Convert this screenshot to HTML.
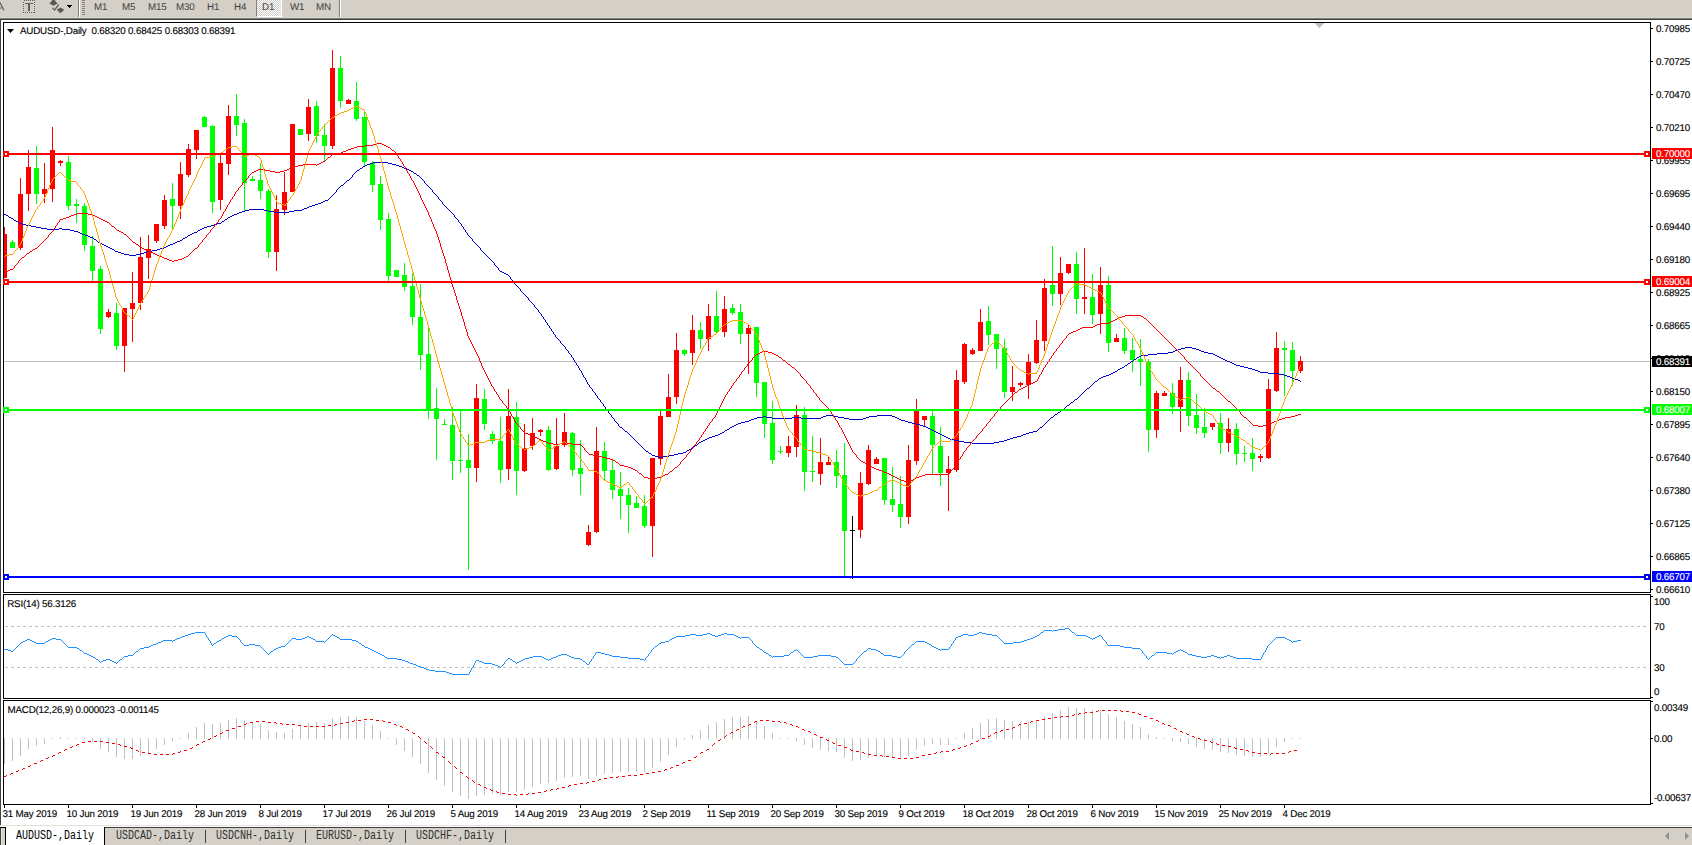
<!DOCTYPE html><html><head><meta charset="utf-8"><title>AUDUSD-,Daily</title>
<style>
html,body{margin:0;padding:0;background:#fff;width:1692px;height:845px;overflow:hidden}
body{position:relative;font-family:"Liberation Sans",sans-serif;font-size:9.5px;color:#000}
.t{position:absolute;white-space:pre;line-height:12px;height:12px;font-size:9.8px;letter-spacing:-0.2px;text-rendering:geometricPrecision;-webkit-text-stroke:0.12px}
.tb{position:absolute;white-space:pre;line-height:12px;font-size:9.8px;letter-spacing:-0.2px;color:#404040;text-rendering:geometricPrecision}
.tab{position:absolute;white-space:pre;font-family:"Liberation Mono",monospace;font-size:12px;line-height:14px;top:829px;transform:scaleX(0.8333);transform-origin:0 0}
svg{position:absolute;left:0;top:0}
</style></head><body>
<div style="position:absolute;left:0;top:0;width:1692px;height:18px;background:#d4d0c8"></div>
<div style="position:absolute;left:0;top:17px;width:1692px;height:1px;background:#dbd7cf"></div>
<div style="position:absolute;left:0;top:18px;width:1692px;height:1px;background:#808080"></div>
<div style="position:absolute;left:0;top:19px;width:1692px;height:1px;background:#404040"></div>
<div style="position:absolute;left:0;top:20px;width:1px;height:805px;background:#404040"></div>
<div style="position:absolute;left:0;top:825px;width:1692px;height:1px;background:#e4e1da"></div>
<div style="position:absolute;left:0;top:827px;width:1692px;height:18px;background:#d4d0c8"></div>
<div style="position:absolute;left:0;top:827px;width:1692px;height:1px;background:#404040"></div>
<div style="position:absolute;left:0;top:827px;width:6px;height:1px;background:#000"></div>
<div style="position:absolute;left:0;top:828px;width:1px;height:17px;background:#404040"></div>
<div style="position:absolute;left:1px;top:828px;width:1px;height:17px;background:#e8e5e0"></div>
<div style="position:absolute;left:5px;top:827px;width:1px;height:18px;background:#000"></div>
<div style="position:absolute;left:6px;top:826px;width:98px;height:19px;background:#fff"></div>
<div style="position:absolute;left:104px;top:827px;width:1px;height:18px;background:#000"></div>
<svg width="1692" height="845" viewBox="0 0 1692 845" shape-rendering="crispEdges">
<rect x="3" y="22" width="1648" height="1" fill="#000"/>
<rect x="3" y="592" width="1648" height="1" fill="#000"/>
<rect x="3" y="22" width="1" height="571" fill="#000"/>
<rect x="1650" y="22" width="1" height="571" fill="#000"/>
<rect x="3" y="594" width="1648" height="1" fill="#000"/>
<rect x="3" y="698" width="1648" height="1" fill="#000"/>
<rect x="3" y="594" width="1" height="105" fill="#000"/>
<rect x="1650" y="594" width="1" height="105" fill="#000"/>
<rect x="3" y="700" width="1648" height="1" fill="#000"/>
<rect x="3" y="804" width="1648" height="1" fill="#000"/>
<rect x="3" y="700" width="1" height="105" fill="#000"/>
<rect x="1650" y="700" width="1" height="105" fill="#000"/>
<rect x="1651" y="28" width="2" height="1" fill="#000"/>
<rect x="1651" y="61" width="2" height="1" fill="#000"/>
<rect x="1651" y="94" width="2" height="1" fill="#000"/>
<rect x="1651" y="127" width="2" height="1" fill="#000"/>
<rect x="1651" y="160" width="2" height="1" fill="#000"/>
<rect x="1651" y="193" width="2" height="1" fill="#000"/>
<rect x="1651" y="226" width="2" height="1" fill="#000"/>
<rect x="1651" y="259" width="2" height="1" fill="#000"/>
<rect x="1651" y="292" width="2" height="1" fill="#000"/>
<rect x="1651" y="325" width="2" height="1" fill="#000"/>
<rect x="1651" y="391" width="2" height="1" fill="#000"/>
<rect x="1651" y="424" width="2" height="1" fill="#000"/>
<rect x="1651" y="457" width="2" height="1" fill="#000"/>
<rect x="1651" y="490" width="2" height="1" fill="#000"/>
<rect x="1651" y="523" width="2" height="1" fill="#000"/>
<rect x="1651" y="556" width="2" height="1" fill="#000"/>
<rect x="1651" y="589" width="2" height="1" fill="#000"/>
<rect x="1651" y="358" width="2" height="1" fill="#000"/>
<rect x="1651" y="596" width="2" height="1" fill="#000"/>
<rect x="1651" y="697" width="2" height="1" fill="#000"/>
<rect x="1651" y="701" width="2" height="1" fill="#000"/>
<rect x="1651" y="738" width="2" height="1" fill="#000"/>
<rect x="1651" y="803" width="2" height="1" fill="#000"/>
<rect x="4" y="805" width="1" height="3" fill="#000"/>
<rect x="68" y="805" width="1" height="3" fill="#000"/>
<rect x="132" y="805" width="1" height="3" fill="#000"/>
<rect x="196" y="805" width="1" height="3" fill="#000"/>
<rect x="260" y="805" width="1" height="3" fill="#000"/>
<rect x="324" y="805" width="1" height="3" fill="#000"/>
<rect x="388" y="805" width="1" height="3" fill="#000"/>
<rect x="452" y="805" width="1" height="3" fill="#000"/>
<rect x="516" y="805" width="1" height="3" fill="#000"/>
<rect x="580" y="805" width="1" height="3" fill="#000"/>
<rect x="644" y="805" width="1" height="3" fill="#000"/>
<rect x="708" y="805" width="1" height="3" fill="#000"/>
<rect x="772" y="805" width="1" height="3" fill="#000"/>
<rect x="836" y="805" width="1" height="3" fill="#000"/>
<rect x="900" y="805" width="1" height="3" fill="#000"/>
<rect x="964" y="805" width="1" height="3" fill="#000"/>
<rect x="1028" y="805" width="1" height="3" fill="#000"/>
<rect x="1092" y="805" width="1" height="3" fill="#000"/>
<rect x="1156" y="805" width="1" height="3" fill="#000"/>
<rect x="1220" y="805" width="1" height="3" fill="#000"/>
<rect x="1284" y="805" width="1" height="3" fill="#000"/>
<rect x="4" y="361" width="1646" height="1" fill="#c0c0c0"/>
<path d="M1315 23h9v1h-1v1h-1v1h-1v1h-1v1h-1v-1h-1v-1h-1v-1h-1v-1h-1z" fill="#c0c0c0"/>
<g stroke="#c0c0c0" stroke-width="1" stroke-dasharray="3,3">
<line x1="5" y1="626.5" x2="1649" y2="626.5"/><line x1="5" y1="667.5" x2="1649" y2="667.5"/></g>
<rect x="4" y="738" width="1" height="26" fill="#c0c0c0"/>
<rect x="12" y="738" width="1" height="23" fill="#c0c0c0"/>
<rect x="20" y="738" width="1" height="18" fill="#c0c0c0"/>
<rect x="28" y="738" width="1" height="11" fill="#c0c0c0"/>
<rect x="36" y="738" width="1" height="8" fill="#c0c0c0"/>
<rect x="44" y="738" width="1" height="6" fill="#c0c0c0"/>
<rect x="52" y="738" width="1" height="1" fill="#c0c0c0"/>
<rect x="60" y="737" width="1" height="2" fill="#c0c0c0"/>
<rect x="68" y="738" width="1" height="1" fill="#c0c0c0"/>
<rect x="76" y="738" width="1" height="1" fill="#c0c0c0"/>
<rect x="84" y="738" width="1" height="1" fill="#c0c0c0"/>
<rect x="92" y="738" width="1" height="4" fill="#c0c0c0"/>
<rect x="100" y="738" width="1" height="11" fill="#c0c0c0"/>
<rect x="108" y="738" width="1" height="14" fill="#c0c0c0"/>
<rect x="116" y="738" width="1" height="19" fill="#c0c0c0"/>
<rect x="124" y="738" width="1" height="21" fill="#c0c0c0"/>
<rect x="132" y="738" width="1" height="21" fill="#c0c0c0"/>
<rect x="140" y="738" width="1" height="18" fill="#c0c0c0"/>
<rect x="148" y="738" width="1" height="15" fill="#c0c0c0"/>
<rect x="156" y="738" width="1" height="11" fill="#c0c0c0"/>
<rect x="164" y="738" width="1" height="7" fill="#c0c0c0"/>
<rect x="172" y="738" width="1" height="3" fill="#c0c0c0"/>
<rect x="180" y="738" width="1" height="1" fill="#c0c0c0"/>
<rect x="188" y="733" width="1" height="6" fill="#c0c0c0"/>
<rect x="196" y="727" width="1" height="12" fill="#c0c0c0"/>
<rect x="204" y="723" width="1" height="16" fill="#c0c0c0"/>
<rect x="212" y="724" width="1" height="15" fill="#c0c0c0"/>
<rect x="220" y="723" width="1" height="16" fill="#c0c0c0"/>
<rect x="228" y="720" width="1" height="19" fill="#c0c0c0"/>
<rect x="236" y="718" width="1" height="21" fill="#c0c0c0"/>
<rect x="244" y="720" width="1" height="19" fill="#c0c0c0"/>
<rect x="252" y="722" width="1" height="17" fill="#c0c0c0"/>
<rect x="260" y="724" width="1" height="15" fill="#c0c0c0"/>
<rect x="268" y="730" width="1" height="9" fill="#c0c0c0"/>
<rect x="276" y="732" width="1" height="7" fill="#c0c0c0"/>
<rect x="284" y="733" width="1" height="6" fill="#c0c0c0"/>
<rect x="292" y="729" width="1" height="10" fill="#c0c0c0"/>
<rect x="300" y="726" width="1" height="13" fill="#c0c0c0"/>
<rect x="308" y="723" width="1" height="16" fill="#c0c0c0"/>
<rect x="316" y="722" width="1" height="17" fill="#c0c0c0"/>
<rect x="324" y="723" width="1" height="16" fill="#c0c0c0"/>
<rect x="332" y="718" width="1" height="21" fill="#c0c0c0"/>
<rect x="340" y="717" width="1" height="22" fill="#c0c0c0"/>
<rect x="348" y="716" width="1" height="23" fill="#c0c0c0"/>
<rect x="356" y="717" width="1" height="22" fill="#c0c0c0"/>
<rect x="364" y="721" width="1" height="18" fill="#c0c0c0"/>
<rect x="372" y="725" width="1" height="14" fill="#c0c0c0"/>
<rect x="380" y="731" width="1" height="8" fill="#c0c0c0"/>
<rect x="388" y="738" width="1" height="1" fill="#c0c0c0"/>
<rect x="396" y="738" width="1" height="7" fill="#c0c0c0"/>
<rect x="404" y="738" width="1" height="13" fill="#c0c0c0"/>
<rect x="412" y="738" width="1" height="19" fill="#c0c0c0"/>
<rect x="420" y="738" width="1" height="26" fill="#c0c0c0"/>
<rect x="428" y="738" width="1" height="35" fill="#c0c0c0"/>
<rect x="436" y="738" width="1" height="42" fill="#c0c0c0"/>
<rect x="444" y="738" width="1" height="48" fill="#c0c0c0"/>
<rect x="452" y="738" width="1" height="54" fill="#c0c0c0"/>
<rect x="460" y="738" width="1" height="58" fill="#c0c0c0"/>
<rect x="468" y="738" width="1" height="61" fill="#c0c0c0"/>
<rect x="476" y="738" width="1" height="58" fill="#c0c0c0"/>
<rect x="484" y="738" width="1" height="57" fill="#c0c0c0"/>
<rect x="492" y="738" width="1" height="56" fill="#c0c0c0"/>
<rect x="500" y="738" width="1" height="57" fill="#c0c0c0"/>
<rect x="508" y="738" width="1" height="54" fill="#c0c0c0"/>
<rect x="516" y="738" width="1" height="54" fill="#c0c0c0"/>
<rect x="524" y="738" width="1" height="52" fill="#c0c0c0"/>
<rect x="532" y="738" width="1" height="49" fill="#c0c0c0"/>
<rect x="540" y="738" width="1" height="46" fill="#c0c0c0"/>
<rect x="548" y="738" width="1" height="45" fill="#c0c0c0"/>
<rect x="556" y="738" width="1" height="43" fill="#c0c0c0"/>
<rect x="564" y="738" width="1" height="40" fill="#c0c0c0"/>
<rect x="572" y="738" width="1" height="39" fill="#c0c0c0"/>
<rect x="580" y="738" width="1" height="38" fill="#c0c0c0"/>
<rect x="588" y="738" width="1" height="41" fill="#c0c0c0"/>
<rect x="596" y="738" width="1" height="38" fill="#c0c0c0"/>
<rect x="604" y="738" width="1" height="36" fill="#c0c0c0"/>
<rect x="612" y="738" width="1" height="35" fill="#c0c0c0"/>
<rect x="620" y="738" width="1" height="34" fill="#c0c0c0"/>
<rect x="628" y="738" width="1" height="34" fill="#c0c0c0"/>
<rect x="636" y="738" width="1" height="34" fill="#c0c0c0"/>
<rect x="644" y="738" width="1" height="34" fill="#c0c0c0"/>
<rect x="652" y="738" width="1" height="30" fill="#c0c0c0"/>
<rect x="660" y="738" width="1" height="24" fill="#c0c0c0"/>
<rect x="668" y="738" width="1" height="17" fill="#c0c0c0"/>
<rect x="676" y="738" width="1" height="9" fill="#c0c0c0"/>
<rect x="684" y="738" width="1" height="2" fill="#c0c0c0"/>
<rect x="692" y="735" width="1" height="4" fill="#c0c0c0"/>
<rect x="700" y="730" width="1" height="9" fill="#c0c0c0"/>
<rect x="708" y="725" width="1" height="14" fill="#c0c0c0"/>
<rect x="716" y="722" width="1" height="17" fill="#c0c0c0"/>
<rect x="724" y="719" width="1" height="20" fill="#c0c0c0"/>
<rect x="732" y="717" width="1" height="22" fill="#c0c0c0"/>
<rect x="740" y="717" width="1" height="22" fill="#c0c0c0"/>
<rect x="748" y="716" width="1" height="23" fill="#c0c0c0"/>
<rect x="756" y="721" width="1" height="18" fill="#c0c0c0"/>
<rect x="764" y="726" width="1" height="13" fill="#c0c0c0"/>
<rect x="772" y="733" width="1" height="6" fill="#c0c0c0"/>
<rect x="780" y="738" width="1" height="1" fill="#c0c0c0"/>
<rect x="788" y="738" width="1" height="1" fill="#c0c0c0"/>
<rect x="796" y="738" width="1" height="3" fill="#c0c0c0"/>
<rect x="804" y="738" width="1" height="7" fill="#c0c0c0"/>
<rect x="812" y="738" width="1" height="10" fill="#c0c0c0"/>
<rect x="820" y="738" width="1" height="12" fill="#c0c0c0"/>
<rect x="828" y="738" width="1" height="13" fill="#c0c0c0"/>
<rect x="836" y="738" width="1" height="14" fill="#c0c0c0"/>
<rect x="844" y="738" width="1" height="20" fill="#c0c0c0"/>
<rect x="852" y="738" width="1" height="23" fill="#c0c0c0"/>
<rect x="860" y="738" width="1" height="22" fill="#c0c0c0"/>
<rect x="868" y="738" width="1" height="20" fill="#c0c0c0"/>
<rect x="876" y="738" width="1" height="18" fill="#c0c0c0"/>
<rect x="884" y="738" width="1" height="19" fill="#c0c0c0"/>
<rect x="892" y="738" width="1" height="20" fill="#c0c0c0"/>
<rect x="900" y="738" width="1" height="21" fill="#c0c0c0"/>
<rect x="908" y="738" width="1" height="18" fill="#c0c0c0"/>
<rect x="916" y="738" width="1" height="12" fill="#c0c0c0"/>
<rect x="924" y="738" width="1" height="8" fill="#c0c0c0"/>
<rect x="932" y="738" width="1" height="6" fill="#c0c0c0"/>
<rect x="940" y="738" width="1" height="7" fill="#c0c0c0"/>
<rect x="948" y="738" width="1" height="7" fill="#c0c0c0"/>
<rect x="956" y="738" width="1" height="1" fill="#c0c0c0"/>
<rect x="964" y="733" width="1" height="6" fill="#c0c0c0"/>
<rect x="972" y="728" width="1" height="11" fill="#c0c0c0"/>
<rect x="980" y="723" width="1" height="16" fill="#c0c0c0"/>
<rect x="988" y="719" width="1" height="20" fill="#c0c0c0"/>
<rect x="996" y="718" width="1" height="21" fill="#c0c0c0"/>
<rect x="1004" y="720" width="1" height="19" fill="#c0c0c0"/>
<rect x="1012" y="721" width="1" height="18" fill="#c0c0c0"/>
<rect x="1020" y="722" width="1" height="17" fill="#c0c0c0"/>
<rect x="1028" y="722" width="1" height="17" fill="#c0c0c0"/>
<rect x="1036" y="720" width="1" height="19" fill="#c0c0c0"/>
<rect x="1044" y="716" width="1" height="23" fill="#c0c0c0"/>
<rect x="1052" y="713" width="1" height="26" fill="#c0c0c0"/>
<rect x="1060" y="710" width="1" height="29" fill="#c0c0c0"/>
<rect x="1068" y="707" width="1" height="32" fill="#c0c0c0"/>
<rect x="1076" y="708" width="1" height="31" fill="#c0c0c0"/>
<rect x="1084" y="708" width="1" height="31" fill="#c0c0c0"/>
<rect x="1092" y="710" width="1" height="29" fill="#c0c0c0"/>
<rect x="1100" y="710" width="1" height="29" fill="#c0c0c0"/>
<rect x="1108" y="714" width="1" height="25" fill="#c0c0c0"/>
<rect x="1116" y="717" width="1" height="22" fill="#c0c0c0"/>
<rect x="1124" y="721" width="1" height="18" fill="#c0c0c0"/>
<rect x="1132" y="724" width="1" height="15" fill="#c0c0c0"/>
<rect x="1140" y="727" width="1" height="12" fill="#c0c0c0"/>
<rect x="1148" y="734" width="1" height="5" fill="#c0c0c0"/>
<rect x="1156" y="737" width="1" height="2" fill="#c0c0c0"/>
<rect x="1164" y="738" width="1" height="1" fill="#c0c0c0"/>
<rect x="1172" y="738" width="1" height="3" fill="#c0c0c0"/>
<rect x="1180" y="738" width="1" height="4" fill="#c0c0c0"/>
<rect x="1188" y="738" width="1" height="6" fill="#c0c0c0"/>
<rect x="1196" y="738" width="1" height="9" fill="#c0c0c0"/>
<rect x="1204" y="738" width="1" height="11" fill="#c0c0c0"/>
<rect x="1212" y="738" width="1" height="12" fill="#c0c0c0"/>
<rect x="1220" y="738" width="1" height="14" fill="#c0c0c0"/>
<rect x="1228" y="738" width="1" height="15" fill="#c0c0c0"/>
<rect x="1236" y="738" width="1" height="17" fill="#c0c0c0"/>
<rect x="1244" y="738" width="1" height="18" fill="#c0c0c0"/>
<rect x="1252" y="738" width="1" height="19" fill="#c0c0c0"/>
<rect x="1260" y="738" width="1" height="19" fill="#c0c0c0"/>
<rect x="1268" y="738" width="1" height="15" fill="#c0c0c0"/>
<rect x="1276" y="738" width="1" height="9" fill="#c0c0c0"/>
<rect x="1284" y="738" width="1" height="4" fill="#c0c0c0"/>
<rect x="1292" y="738" width="1" height="1" fill="#c0c0c0"/>
<rect x="1300" y="738" width="1" height="1" fill="#c0c0c0"/>
<rect x="4" y="227" width="1" height="51" fill="#ff0000"/>
<rect x="4" y="234" width="3" height="44" fill="#ff0000"/>
<rect x="12" y="240" width="1" height="8" fill="#00ff00"/>
<rect x="10" y="242" width="5" height="6" fill="#00ff00"/>
<rect x="20" y="178" width="1" height="72" fill="#ff0000"/>
<rect x="18" y="194" width="5" height="54" fill="#ff0000"/>
<rect x="28" y="150" width="1" height="61" fill="#ff0000"/>
<rect x="26" y="167" width="5" height="27" fill="#ff0000"/>
<rect x="36" y="146" width="1" height="58" fill="#00ff00"/>
<rect x="34" y="168" width="5" height="26" fill="#00ff00"/>
<rect x="44" y="163" width="1" height="40" fill="#ff0000"/>
<rect x="42" y="189" width="5" height="5" fill="#ff0000"/>
<rect x="52" y="127" width="1" height="75" fill="#ff0000"/>
<rect x="50" y="150" width="5" height="39" fill="#ff0000"/>
<rect x="60" y="160" width="1" height="6" fill="#ff0000"/>
<rect x="58" y="161" width="5" height="2" fill="#ff0000"/>
<rect x="68" y="156" width="1" height="54" fill="#00ff00"/>
<rect x="66" y="162" width="5" height="44" fill="#00ff00"/>
<rect x="76" y="199" width="1" height="24" fill="#00ff00"/>
<rect x="74" y="204" width="5" height="2" fill="#00ff00"/>
<rect x="84" y="203" width="1" height="48" fill="#00ff00"/>
<rect x="82" y="206" width="5" height="39" fill="#00ff00"/>
<rect x="92" y="236" width="1" height="45" fill="#00ff00"/>
<rect x="90" y="246" width="5" height="25" fill="#00ff00"/>
<rect x="100" y="266" width="1" height="68" fill="#00ff00"/>
<rect x="98" y="269" width="5" height="60" fill="#00ff00"/>
<rect x="108" y="309" width="1" height="9" fill="#ff0000"/>
<rect x="106" y="312" width="5" height="5" fill="#ff0000"/>
<rect x="116" y="303" width="1" height="47" fill="#00ff00"/>
<rect x="114" y="313" width="5" height="33" fill="#00ff00"/>
<rect x="124" y="308" width="1" height="64" fill="#ff0000"/>
<rect x="122" y="308" width="5" height="38" fill="#ff0000"/>
<rect x="132" y="272" width="1" height="70" fill="#ff0000"/>
<rect x="130" y="303" width="5" height="6" fill="#ff0000"/>
<rect x="140" y="237" width="1" height="73" fill="#ff0000"/>
<rect x="138" y="257" width="5" height="46" fill="#ff0000"/>
<rect x="148" y="235" width="1" height="44" fill="#ff0000"/>
<rect x="146" y="249" width="5" height="9" fill="#ff0000"/>
<rect x="156" y="224" width="1" height="19" fill="#ff0000"/>
<rect x="154" y="224" width="5" height="17" fill="#ff0000"/>
<rect x="164" y="195" width="1" height="34" fill="#ff0000"/>
<rect x="162" y="200" width="5" height="26" fill="#ff0000"/>
<rect x="172" y="183" width="1" height="47" fill="#00ff00"/>
<rect x="170" y="199" width="5" height="7" fill="#00ff00"/>
<rect x="180" y="162" width="1" height="57" fill="#ff0000"/>
<rect x="178" y="174" width="5" height="32" fill="#ff0000"/>
<rect x="188" y="144" width="1" height="33" fill="#ff0000"/>
<rect x="186" y="149" width="5" height="26" fill="#ff0000"/>
<rect x="196" y="130" width="1" height="29" fill="#ff0000"/>
<rect x="194" y="130" width="5" height="20" fill="#ff0000"/>
<rect x="204" y="116" width="1" height="11" fill="#00ff00"/>
<rect x="202" y="117" width="5" height="10" fill="#00ff00"/>
<rect x="212" y="125" width="1" height="88" fill="#00ff00"/>
<rect x="210" y="126" width="5" height="76" fill="#00ff00"/>
<rect x="220" y="154" width="1" height="56" fill="#ff0000"/>
<rect x="218" y="163" width="5" height="37" fill="#ff0000"/>
<rect x="228" y="105" width="1" height="70" fill="#ff0000"/>
<rect x="226" y="116" width="5" height="48" fill="#ff0000"/>
<rect x="236" y="94" width="1" height="42" fill="#00ff00"/>
<rect x="234" y="116" width="5" height="9" fill="#00ff00"/>
<rect x="244" y="119" width="1" height="92" fill="#00ff00"/>
<rect x="242" y="123" width="5" height="60" fill="#00ff00"/>
<rect x="252" y="176" width="1" height="5" fill="#00ff00"/>
<rect x="250" y="179" width="5" height="2" fill="#00ff00"/>
<rect x="260" y="163" width="1" height="36" fill="#00ff00"/>
<rect x="258" y="180" width="5" height="11" fill="#00ff00"/>
<rect x="268" y="189" width="1" height="69" fill="#00ff00"/>
<rect x="266" y="191" width="5" height="61" fill="#00ff00"/>
<rect x="276" y="195" width="1" height="76" fill="#ff0000"/>
<rect x="274" y="209" width="5" height="43" fill="#ff0000"/>
<rect x="284" y="172" width="1" height="43" fill="#ff0000"/>
<rect x="282" y="192" width="5" height="18" fill="#ff0000"/>
<rect x="292" y="124" width="1" height="68" fill="#ff0000"/>
<rect x="290" y="124" width="5" height="68" fill="#ff0000"/>
<rect x="300" y="129" width="1" height="6" fill="#00ff00"/>
<rect x="298" y="129" width="5" height="6" fill="#00ff00"/>
<rect x="308" y="99" width="1" height="42" fill="#ff0000"/>
<rect x="306" y="107" width="5" height="27" fill="#ff0000"/>
<rect x="316" y="101" width="1" height="42" fill="#00ff00"/>
<rect x="314" y="106" width="5" height="30" fill="#00ff00"/>
<rect x="324" y="124" width="1" height="37" fill="#00ff00"/>
<rect x="322" y="135" width="5" height="11" fill="#00ff00"/>
<rect x="332" y="50" width="1" height="99" fill="#ff0000"/>
<rect x="330" y="68" width="5" height="78" fill="#ff0000"/>
<rect x="340" y="56" width="1" height="52" fill="#00ff00"/>
<rect x="338" y="68" width="5" height="33" fill="#00ff00"/>
<rect x="348" y="99" width="1" height="5" fill="#ff0000"/>
<rect x="346" y="100" width="5" height="4" fill="#ff0000"/>
<rect x="356" y="82" width="1" height="39" fill="#00ff00"/>
<rect x="354" y="101" width="5" height="18" fill="#00ff00"/>
<rect x="364" y="112" width="1" height="54" fill="#00ff00"/>
<rect x="362" y="117" width="5" height="45" fill="#00ff00"/>
<rect x="372" y="161" width="1" height="31" fill="#00ff00"/>
<rect x="370" y="163" width="5" height="22" fill="#00ff00"/>
<rect x="380" y="176" width="1" height="54" fill="#00ff00"/>
<rect x="378" y="184" width="5" height="36" fill="#00ff00"/>
<rect x="388" y="213" width="1" height="68" fill="#00ff00"/>
<rect x="386" y="219" width="5" height="57" fill="#00ff00"/>
<rect x="396" y="270" width="1" height="7" fill="#00ff00"/>
<rect x="394" y="270" width="5" height="7" fill="#00ff00"/>
<rect x="404" y="263" width="1" height="28" fill="#00ff00"/>
<rect x="402" y="275" width="5" height="12" fill="#00ff00"/>
<rect x="412" y="273" width="1" height="52" fill="#00ff00"/>
<rect x="410" y="286" width="5" height="31" fill="#00ff00"/>
<rect x="420" y="284" width="1" height="86" fill="#00ff00"/>
<rect x="418" y="317" width="5" height="38" fill="#00ff00"/>
<rect x="428" y="325" width="1" height="94" fill="#00ff00"/>
<rect x="426" y="354" width="5" height="56" fill="#00ff00"/>
<rect x="436" y="388" width="1" height="72" fill="#00ff00"/>
<rect x="434" y="408" width="5" height="11" fill="#00ff00"/>
<rect x="444" y="419" width="1" height="6" fill="#00ff00"/>
<rect x="442" y="424" width="5" height="1" fill="#00ff00"/>
<rect x="452" y="407" width="1" height="73" fill="#00ff00"/>
<rect x="450" y="425" width="5" height="36" fill="#00ff00"/>
<rect x="460" y="411" width="1" height="62" fill="#00ff00"/>
<rect x="458" y="460" width="5" height="1" fill="#00ff00"/>
<rect x="468" y="434" width="1" height="136" fill="#00ff00"/>
<rect x="466" y="460" width="5" height="8" fill="#00ff00"/>
<rect x="476" y="384" width="1" height="98" fill="#ff0000"/>
<rect x="474" y="398" width="5" height="70" fill="#ff0000"/>
<rect x="484" y="389" width="1" height="41" fill="#00ff00"/>
<rect x="482" y="399" width="5" height="25" fill="#00ff00"/>
<rect x="492" y="431" width="1" height="13" fill="#00ff00"/>
<rect x="490" y="434" width="5" height="7" fill="#00ff00"/>
<rect x="500" y="417" width="1" height="66" fill="#00ff00"/>
<rect x="498" y="441" width="5" height="29" fill="#00ff00"/>
<rect x="508" y="389" width="1" height="91" fill="#ff0000"/>
<rect x="506" y="416" width="5" height="53" fill="#ff0000"/>
<rect x="516" y="402" width="1" height="93" fill="#00ff00"/>
<rect x="514" y="417" width="5" height="54" fill="#00ff00"/>
<rect x="524" y="424" width="1" height="48" fill="#ff0000"/>
<rect x="522" y="448" width="5" height="23" fill="#ff0000"/>
<rect x="532" y="418" width="1" height="32" fill="#ff0000"/>
<rect x="530" y="433" width="5" height="13" fill="#ff0000"/>
<rect x="540" y="429" width="1" height="7" fill="#ff0000"/>
<rect x="538" y="430" width="5" height="2" fill="#ff0000"/>
<rect x="548" y="426" width="1" height="45" fill="#00ff00"/>
<rect x="546" y="430" width="5" height="40" fill="#00ff00"/>
<rect x="556" y="418" width="1" height="52" fill="#ff0000"/>
<rect x="554" y="446" width="5" height="23" fill="#ff0000"/>
<rect x="564" y="413" width="1" height="34" fill="#ff0000"/>
<rect x="562" y="432" width="5" height="13" fill="#ff0000"/>
<rect x="572" y="432" width="1" height="44" fill="#00ff00"/>
<rect x="570" y="433" width="5" height="37" fill="#00ff00"/>
<rect x="580" y="440" width="1" height="55" fill="#00ff00"/>
<rect x="578" y="468" width="5" height="6" fill="#00ff00"/>
<rect x="588" y="525" width="1" height="21" fill="#ff0000"/>
<rect x="586" y="532" width="5" height="13" fill="#ff0000"/>
<rect x="596" y="427" width="1" height="106" fill="#ff0000"/>
<rect x="594" y="451" width="5" height="81" fill="#ff0000"/>
<rect x="604" y="442" width="1" height="39" fill="#00ff00"/>
<rect x="602" y="451" width="5" height="20" fill="#00ff00"/>
<rect x="612" y="460" width="1" height="39" fill="#00ff00"/>
<rect x="610" y="470" width="5" height="20" fill="#00ff00"/>
<rect x="620" y="472" width="1" height="47" fill="#00ff00"/>
<rect x="618" y="489" width="5" height="7" fill="#00ff00"/>
<rect x="628" y="488" width="1" height="45" fill="#00ff00"/>
<rect x="626" y="495" width="5" height="10" fill="#00ff00"/>
<rect x="636" y="496" width="1" height="12" fill="#00ff00"/>
<rect x="634" y="503" width="5" height="5" fill="#00ff00"/>
<rect x="644" y="495" width="1" height="33" fill="#00ff00"/>
<rect x="642" y="506" width="5" height="20" fill="#00ff00"/>
<rect x="652" y="458" width="1" height="99" fill="#ff0000"/>
<rect x="650" y="458" width="5" height="68" fill="#ff0000"/>
<rect x="660" y="411" width="1" height="54" fill="#ff0000"/>
<rect x="658" y="416" width="5" height="43" fill="#ff0000"/>
<rect x="668" y="374" width="1" height="43" fill="#ff0000"/>
<rect x="666" y="397" width="5" height="20" fill="#ff0000"/>
<rect x="676" y="333" width="1" height="71" fill="#ff0000"/>
<rect x="674" y="350" width="5" height="47" fill="#ff0000"/>
<rect x="684" y="349" width="1" height="7" fill="#00ff00"/>
<rect x="682" y="350" width="5" height="4" fill="#00ff00"/>
<rect x="692" y="315" width="1" height="50" fill="#ff0000"/>
<rect x="690" y="330" width="5" height="23" fill="#ff0000"/>
<rect x="700" y="322" width="1" height="27" fill="#00ff00"/>
<rect x="698" y="330" width="5" height="9" fill="#00ff00"/>
<rect x="708" y="304" width="1" height="47" fill="#ff0000"/>
<rect x="706" y="316" width="5" height="23" fill="#ff0000"/>
<rect x="716" y="291" width="1" height="42" fill="#00ff00"/>
<rect x="714" y="316" width="5" height="16" fill="#00ff00"/>
<rect x="724" y="296" width="1" height="41" fill="#ff0000"/>
<rect x="722" y="309" width="5" height="23" fill="#ff0000"/>
<rect x="732" y="304" width="1" height="11" fill="#00ff00"/>
<rect x="730" y="308" width="5" height="5" fill="#00ff00"/>
<rect x="740" y="304" width="1" height="40" fill="#00ff00"/>
<rect x="738" y="312" width="5" height="22" fill="#00ff00"/>
<rect x="748" y="324" width="1" height="50" fill="#ff0000"/>
<rect x="746" y="328" width="5" height="6" fill="#ff0000"/>
<rect x="756" y="327" width="1" height="70" fill="#00ff00"/>
<rect x="754" y="327" width="5" height="56" fill="#00ff00"/>
<rect x="764" y="382" width="1" height="56" fill="#00ff00"/>
<rect x="762" y="382" width="5" height="42" fill="#00ff00"/>
<rect x="772" y="401" width="1" height="63" fill="#00ff00"/>
<rect x="770" y="423" width="5" height="37" fill="#00ff00"/>
<rect x="780" y="446" width="1" height="8" fill="#00ff00"/>
<rect x="778" y="451" width="5" height="1" fill="#00ff00"/>
<rect x="788" y="436" width="1" height="21" fill="#ff0000"/>
<rect x="786" y="446" width="5" height="7" fill="#ff0000"/>
<rect x="796" y="405" width="1" height="52" fill="#ff0000"/>
<rect x="794" y="415" width="5" height="32" fill="#ff0000"/>
<rect x="804" y="407" width="1" height="84" fill="#00ff00"/>
<rect x="802" y="415" width="5" height="57" fill="#00ff00"/>
<rect x="812" y="436" width="1" height="46" fill="#00ff00"/>
<rect x="810" y="471" width="5" height="1" fill="#00ff00"/>
<rect x="820" y="438" width="1" height="47" fill="#ff0000"/>
<rect x="818" y="462" width="5" height="12" fill="#ff0000"/>
<rect x="828" y="457" width="1" height="8" fill="#ff0000"/>
<rect x="826" y="462" width="5" height="3" fill="#ff0000"/>
<rect x="836" y="450" width="1" height="38" fill="#00ff00"/>
<rect x="834" y="462" width="5" height="14" fill="#00ff00"/>
<rect x="844" y="443" width="1" height="133" fill="#00ff00"/>
<rect x="842" y="475" width="5" height="56" fill="#00ff00"/>
<rect x="852" y="516" width="1" height="63" fill="#000000"/>
<rect x="850" y="530" width="5" height="1" fill="#000000"/>
<rect x="860" y="472" width="1" height="66" fill="#ff0000"/>
<rect x="858" y="483" width="5" height="47" fill="#ff0000"/>
<rect x="868" y="445" width="1" height="40" fill="#ff0000"/>
<rect x="866" y="450" width="5" height="34" fill="#ff0000"/>
<rect x="876" y="457" width="1" height="7" fill="#ff0000"/>
<rect x="874" y="459" width="5" height="5" fill="#ff0000"/>
<rect x="884" y="458" width="1" height="47" fill="#00ff00"/>
<rect x="882" y="458" width="5" height="42" fill="#00ff00"/>
<rect x="892" y="467" width="1" height="45" fill="#00ff00"/>
<rect x="890" y="499" width="5" height="6" fill="#00ff00"/>
<rect x="900" y="476" width="1" height="52" fill="#00ff00"/>
<rect x="898" y="504" width="5" height="13" fill="#00ff00"/>
<rect x="908" y="445" width="1" height="79" fill="#ff0000"/>
<rect x="906" y="460" width="5" height="57" fill="#ff0000"/>
<rect x="916" y="399" width="1" height="66" fill="#ff0000"/>
<rect x="914" y="411" width="5" height="50" fill="#ff0000"/>
<rect x="924" y="416" width="1" height="10" fill="#ff0000"/>
<rect x="922" y="416" width="5" height="4" fill="#ff0000"/>
<rect x="932" y="411" width="1" height="63" fill="#00ff00"/>
<rect x="930" y="416" width="5" height="29" fill="#00ff00"/>
<rect x="940" y="427" width="1" height="59" fill="#00ff00"/>
<rect x="938" y="446" width="5" height="27" fill="#00ff00"/>
<rect x="948" y="456" width="1" height="55" fill="#ff0000"/>
<rect x="946" y="469" width="5" height="4" fill="#ff0000"/>
<rect x="956" y="370" width="1" height="102" fill="#ff0000"/>
<rect x="954" y="380" width="5" height="90" fill="#ff0000"/>
<rect x="964" y="343" width="1" height="41" fill="#ff0000"/>
<rect x="962" y="344" width="5" height="38" fill="#ff0000"/>
<rect x="972" y="348" width="1" height="7" fill="#ff0000"/>
<rect x="970" y="350" width="5" height="4" fill="#ff0000"/>
<rect x="980" y="309" width="1" height="42" fill="#ff0000"/>
<rect x="978" y="322" width="5" height="29" fill="#ff0000"/>
<rect x="988" y="306" width="1" height="39" fill="#00ff00"/>
<rect x="986" y="321" width="5" height="14" fill="#00ff00"/>
<rect x="996" y="334" width="1" height="35" fill="#00ff00"/>
<rect x="994" y="334" width="5" height="15" fill="#00ff00"/>
<rect x="1004" y="339" width="1" height="59" fill="#00ff00"/>
<rect x="1002" y="348" width="5" height="44" fill="#00ff00"/>
<rect x="1012" y="366" width="1" height="35" fill="#ff0000"/>
<rect x="1010" y="387" width="5" height="5" fill="#ff0000"/>
<rect x="1020" y="382" width="1" height="5" fill="#ff0000"/>
<rect x="1018" y="383" width="5" height="2" fill="#ff0000"/>
<rect x="1028" y="354" width="1" height="45" fill="#ff0000"/>
<rect x="1026" y="362" width="5" height="23" fill="#ff0000"/>
<rect x="1036" y="320" width="1" height="44" fill="#ff0000"/>
<rect x="1034" y="340" width="5" height="23" fill="#ff0000"/>
<rect x="1044" y="279" width="1" height="72" fill="#ff0000"/>
<rect x="1042" y="288" width="5" height="53" fill="#ff0000"/>
<rect x="1052" y="246" width="1" height="60" fill="#00ff00"/>
<rect x="1050" y="285" width="5" height="9" fill="#00ff00"/>
<rect x="1060" y="257" width="1" height="48" fill="#ff0000"/>
<rect x="1058" y="273" width="5" height="21" fill="#ff0000"/>
<rect x="1068" y="264" width="1" height="10" fill="#ff0000"/>
<rect x="1066" y="264" width="5" height="9" fill="#ff0000"/>
<rect x="1076" y="252" width="1" height="62" fill="#00ff00"/>
<rect x="1074" y="264" width="5" height="35" fill="#00ff00"/>
<rect x="1084" y="248" width="1" height="66" fill="#ff0000"/>
<rect x="1082" y="297" width="5" height="2" fill="#ff0000"/>
<rect x="1092" y="274" width="1" height="50" fill="#00ff00"/>
<rect x="1090" y="297" width="5" height="18" fill="#00ff00"/>
<rect x="1100" y="267" width="1" height="67" fill="#ff0000"/>
<rect x="1098" y="285" width="5" height="29" fill="#ff0000"/>
<rect x="1108" y="276" width="1" height="76" fill="#00ff00"/>
<rect x="1106" y="285" width="5" height="58" fill="#00ff00"/>
<rect x="1116" y="334" width="1" height="8" fill="#ff0000"/>
<rect x="1114" y="338" width="5" height="4" fill="#ff0000"/>
<rect x="1124" y="328" width="1" height="26" fill="#00ff00"/>
<rect x="1122" y="338" width="5" height="13" fill="#00ff00"/>
<rect x="1132" y="338" width="1" height="34" fill="#00ff00"/>
<rect x="1130" y="350" width="5" height="10" fill="#00ff00"/>
<rect x="1140" y="339" width="1" height="47" fill="#00ff00"/>
<rect x="1138" y="359" width="5" height="3" fill="#00ff00"/>
<rect x="1148" y="359" width="1" height="93" fill="#00ff00"/>
<rect x="1146" y="362" width="5" height="68" fill="#00ff00"/>
<rect x="1156" y="391" width="1" height="47" fill="#ff0000"/>
<rect x="1154" y="393" width="5" height="37" fill="#ff0000"/>
<rect x="1164" y="391" width="1" height="5" fill="#ff0000"/>
<rect x="1162" y="393" width="5" height="3" fill="#ff0000"/>
<rect x="1172" y="383" width="1" height="31" fill="#00ff00"/>
<rect x="1170" y="393" width="5" height="14" fill="#00ff00"/>
<rect x="1180" y="367" width="1" height="65" fill="#ff0000"/>
<rect x="1178" y="380" width="5" height="27" fill="#ff0000"/>
<rect x="1188" y="372" width="1" height="54" fill="#00ff00"/>
<rect x="1186" y="380" width="5" height="36" fill="#00ff00"/>
<rect x="1196" y="394" width="1" height="40" fill="#00ff00"/>
<rect x="1194" y="415" width="5" height="13" fill="#00ff00"/>
<rect x="1204" y="408" width="1" height="30" fill="#00ff00"/>
<rect x="1202" y="427" width="5" height="6" fill="#00ff00"/>
<rect x="1212" y="423" width="1" height="7" fill="#ff0000"/>
<rect x="1210" y="423" width="5" height="4" fill="#ff0000"/>
<rect x="1220" y="413" width="1" height="41" fill="#00ff00"/>
<rect x="1218" y="423" width="5" height="20" fill="#00ff00"/>
<rect x="1228" y="418" width="1" height="34" fill="#ff0000"/>
<rect x="1226" y="429" width="5" height="14" fill="#ff0000"/>
<rect x="1236" y="423" width="1" height="42" fill="#00ff00"/>
<rect x="1234" y="429" width="5" height="25" fill="#00ff00"/>
<rect x="1244" y="446" width="1" height="16" fill="#00ff00"/>
<rect x="1242" y="453" width="5" height="1" fill="#00ff00"/>
<rect x="1252" y="438" width="1" height="33" fill="#00ff00"/>
<rect x="1250" y="453" width="5" height="6" fill="#00ff00"/>
<rect x="1260" y="454" width="1" height="8" fill="#ff0000"/>
<rect x="1258" y="456" width="5" height="2" fill="#ff0000"/>
<rect x="1268" y="379" width="1" height="80" fill="#ff0000"/>
<rect x="1266" y="389" width="5" height="69" fill="#ff0000"/>
<rect x="1276" y="332" width="1" height="60" fill="#ff0000"/>
<rect x="1274" y="348" width="5" height="43" fill="#ff0000"/>
<rect x="1284" y="341" width="1" height="55" fill="#00ff00"/>
<rect x="1282" y="348" width="5" height="2" fill="#00ff00"/>
<rect x="1292" y="342" width="1" height="44" fill="#00ff00"/>
<rect x="1290" y="350" width="5" height="21" fill="#00ff00"/>
<rect x="1300" y="356" width="1" height="17" fill="#ff0000"/>
<rect x="1298" y="361" width="5" height="10" fill="#ff0000"/>
<path d="M336.5 190v2M352.5 175v2M424.5 181v2M432.5 190v2M438.5 197v2M442.5 202v2M454.5 215v2M458.5 220v2M461.5 224v2M463.5 227v2M465.5 230v2M467.5 233v2M472.5 239v2M480.5 248v2M494.5 263v2M498.5 268v2M510.5 277v2M514.5 282v2M520.5 289v2M528.5 298v2M534.5 305v2M538.5 310v2M541.5 314v2M543.5 317v2M545.5 320v2M547.5 323v2M549.5 326v2M551.5 329v2M553.5 332v2M555.5 335v2M560.5 341v2M565.5 347v2M568.5 351v2M571.5 355v2M573.5 358v2M574.5 360v2M576.5 363v2M578.5 366v2M579.5 368v2M581.5 371v2M582.5 373v2M583.5 375v2M585.5 378v2M586.5 380v2M587.5 382v2M589.5 385v2M592.5 389v2M595.5 393v2M597.5 396v2M600.5 400v2M603.5 404v2M605.5 407v2M608.5 411v2M611.5 415v2M614.5 419v2M618.5 424v2M373 162.5h15M370 163.5h3M388 163.5h4M367 164.5h3M392 164.5h4M365 165.5h2M396 165.5h3M363 166.5h2M399 166.5h3M362 167.5h1M402 167.5h2M360 168.5h2M404 168.5h3M359 169.5h1M407 169.5h2M357 170.5h2M409 170.5h2M356 171.5h1M411 171.5h2M355 172.5h1M413 172.5h1M354 173.5h1M414 173.5h2M353 174.5h1M416 174.5h1M417 175.5h2M419 176.5h1M351 177.5h1M420 177.5h1M350 178.5h1M421 178.5h1M349 179.5h1M422 179.5h1M347 180.5h2M423 180.5h1M346 181.5h1M345 182.5h1M344 183.5h1M425 183.5h1M343 184.5h1M426 184.5h1M341 185.5h2M427 185.5h1M340 186.5h1M428 186.5h1M339 187.5h1M429 187.5h1M338 188.5h1M430 188.5h1M337 189.5h1M431 189.5h1M335 192.5h1M433 192.5h1M334 193.5h1M434 193.5h1M333 194.5h1M435 194.5h1M332 195.5h1M436 195.5h1M331 196.5h1M437 196.5h1M330 197.5h1M329 198.5h1M328 199.5h1M439 199.5h1M325 200.5h3M440 200.5h1M323 201.5h2M441 201.5h1M321 202.5h2M318 203.5h3M315 204.5h3M443 204.5h1M312 205.5h3M444 205.5h1M309 206.5h3M445 206.5h1M307 207.5h2M446 207.5h1M304 208.5h3M447 208.5h1M249 209.5h15M302 209.5h2M448 209.5h1M245 210.5h4M264 210.5h4M294 210.5h8M449 210.5h1M242 211.5h3M268 211.5h6M289 211.5h5M450 211.5h1M239 212.5h3M274 212.5h15M451 212.5h1M237 213.5h2M452 213.5h1M4 214.5h2M234 214.5h3M453 214.5h1M6 215.5h2M232 215.5h2M8 216.5h1M230 216.5h2M9 217.5h2M228 217.5h2M455 217.5h1M11 218.5h2M227 218.5h1M456 218.5h1M13 219.5h1M225 219.5h2M457 219.5h1M14 220.5h2M224 220.5h1M16 221.5h2M222 221.5h2M18 222.5h1M221 222.5h1M459 222.5h1M19 223.5h3M217 223.5h4M460 223.5h1M22 224.5h4M214 224.5h3M26 225.5h5M211 225.5h3M31 226.5h5M207 226.5h4M462 226.5h1M36 227.5h5M204 227.5h3M41 228.5h6M59 228.5h3M202 228.5h2M47 229.5h12M62 229.5h8M200 229.5h2M464 229.5h1M70 230.5h4M198 230.5h2M74 231.5h4M197 231.5h1M78 232.5h2M194 232.5h3M466 232.5h1M80 233.5h2M192 233.5h2M82 234.5h3M190 234.5h2M85 235.5h3M188 235.5h2M468 235.5h1M88 236.5h2M187 236.5h1M469 236.5h1M90 237.5h3M185 237.5h2M470 237.5h1M93 238.5h1M183 238.5h2M471 238.5h1M94 239.5h2M182 239.5h1M96 240.5h1M180 240.5h2M97 241.5h1M177 241.5h3M473 241.5h1M98 242.5h2M175 242.5h2M474 242.5h1M100 243.5h2M173 243.5h2M475 243.5h1M102 244.5h2M170 244.5h3M476 244.5h1M104 245.5h2M168 245.5h2M477 245.5h1M106 246.5h2M166 246.5h2M478 246.5h1M108 247.5h2M164 247.5h2M479 247.5h1M110 248.5h2M160 248.5h4M112 249.5h2M157 249.5h3M114 250.5h1M152 250.5h5M481 250.5h1M115 251.5h3M147 251.5h5M482 251.5h1M118 252.5h3M144 252.5h3M483 252.5h1M121 253.5h3M141 253.5h3M484 253.5h1M124 254.5h5M136 254.5h5M485 254.5h1M129 255.5h7M486 255.5h1M487 256.5h1M488 257.5h1M489 258.5h1M490 259.5h1M491 260.5h1M492 261.5h1M493 262.5h1M495 265.5h1M496 266.5h1M497 267.5h1M499 270.5h1M500 271.5h2M502 272.5h2M504 273.5h2M506 274.5h2M508 275.5h1M509 276.5h1M511 279.5h1M512 280.5h1M513 281.5h1M515 284.5h1M516 285.5h1M517 286.5h1M518 287.5h1M519 288.5h1M521 291.5h1M522 292.5h1M523 293.5h1M524 294.5h1M525 295.5h1M526 296.5h1M527 297.5h1M529 300.5h1M530 301.5h1M531 302.5h1M532 303.5h1M533 304.5h1M535 307.5h1M536 308.5h1M537 309.5h1M539 312.5h1M540 313.5h1M542 316.5h1M544 319.5h1M546 322.5h1M548 325.5h1M550 328.5h1M552 331.5h1M554 334.5h1M556 337.5h1M557 338.5h1M558 339.5h1M559 340.5h1M561 343.5h1M562 344.5h1M563 345.5h1M564 346.5h1M1185 347.5h7M1181 348.5h4M1192 348.5h4M566 349.5h1M1178 349.5h3M1196 349.5h3M567 350.5h1M1175 350.5h3M1199 350.5h2M1173 351.5h2M1201 351.5h3M1168 352.5h5M1204 352.5h4M569 353.5h1M1157 353.5h11M1208 353.5h5M570 354.5h1M1148 354.5h9M1213 354.5h2M1141 355.5h7M1215 355.5h2M1139 356.5h2M1217 356.5h2M572 357.5h1M1137 357.5h2M1219 357.5h2M1136 358.5h1M1221 358.5h2M1134 359.5h2M1223 359.5h2M1133 360.5h1M1225 360.5h2M1131 361.5h2M1227 361.5h3M575 362.5h1M1130 362.5h1M1230 362.5h2M1128 363.5h2M1232 363.5h2M1127 364.5h1M1234 364.5h2M577 365.5h1M1125 365.5h2M1236 365.5h4M1124 366.5h1M1240 366.5h4M1122 367.5h2M1244 367.5h4M1120 368.5h2M1248 368.5h4M1118 369.5h2M1252 369.5h3M580 370.5h1M1117 370.5h1M1255 370.5h3M1115 371.5h2M1258 371.5h2M1113 372.5h2M1260 372.5h8M1111 373.5h2M1268 373.5h11M1109 374.5h2M1279 374.5h5M1106 375.5h3M1284 375.5h3M1103 376.5h3M1287 376.5h3M584 377.5h1M1101 377.5h2M1290 377.5h2M1099 378.5h2M1292 378.5h3M1098 379.5h1M1295 379.5h3M1097 380.5h1M1298 380.5h2M1095 381.5h2M1300 381.5h1M1094 382.5h1M1093 383.5h1M588 384.5h1M1092 384.5h1M1091 385.5h1M1090 386.5h1M590 387.5h1M1089 387.5h1M591 388.5h1M1087 388.5h2M1086 389.5h1M1085 390.5h1M593 391.5h1M1084 391.5h1M594 392.5h1M1083 392.5h1M1082 393.5h1M1081 394.5h1M596 395.5h1M1080 395.5h1M1079 396.5h1M1078 397.5h1M598 398.5h1M1077 398.5h1M599 399.5h1M1075 399.5h2M1074 400.5h1M1073 401.5h1M601 402.5h1M1071 402.5h2M602 403.5h1M1070 403.5h1M1069 404.5h1M1067 405.5h2M604 406.5h1M1066 406.5h1M1065 407.5h1M1064 408.5h1M606 409.5h1M1062 409.5h2M607 410.5h1M1061 410.5h1M1060 411.5h1M1058 412.5h2M609 413.5h1M1057 413.5h1M610 414.5h1M1055 414.5h2M826 415.5h7M877 415.5h15M1054 415.5h1M763 416.5h3M823 416.5h3M833 416.5h5M869 416.5h8M892 416.5h3M1053 416.5h1M612 417.5h1M757 417.5h6M766 417.5h6M792 417.5h9M821 417.5h2M838 417.5h6M866 417.5h3M895 417.5h2M1051 417.5h2M613 418.5h1M754 418.5h3M772 418.5h20M801 418.5h20M844 418.5h5M863 418.5h3M897 418.5h2M1050 418.5h1M751 419.5h3M849 419.5h14M899 419.5h2M1049 419.5h1M749 420.5h2M901 420.5h4M1048 420.5h1M615 421.5h1M745 421.5h4M905 421.5h3M1047 421.5h1M616 422.5h1M741 422.5h4M908 422.5h4M1046 422.5h1M617 423.5h1M738 423.5h3M912 423.5h4M1045 423.5h1M736 424.5h2M916 424.5h4M1044 424.5h1M734 425.5h2M920 425.5h3M1043 425.5h1M619 426.5h1M732 426.5h2M923 426.5h3M1042 426.5h1M620 427.5h2M730 427.5h2M926 427.5h2M1040 427.5h2M622 428.5h1M729 428.5h1M928 428.5h2M1039 428.5h1M623 429.5h1M727 429.5h2M930 429.5h2M1038 429.5h1M624 430.5h1M725 430.5h2M932 430.5h2M1037 430.5h1M625 431.5h2M724 431.5h1M934 431.5h2M1033 431.5h4M627 432.5h1M722 432.5h2M936 432.5h2M1029 432.5h4M628 433.5h1M720 433.5h2M938 433.5h2M1026 433.5h3M629 434.5h1M718 434.5h2M940 434.5h2M1023 434.5h3M630 435.5h1M715 435.5h3M942 435.5h2M1021 435.5h2M631 436.5h1M712 436.5h3M944 436.5h2M1017 436.5h4M632 437.5h1M709 437.5h3M946 437.5h2M1013 437.5h4M633 438.5h1M707 438.5h2M948 438.5h2M1010 438.5h3M634 439.5h1M705 439.5h2M950 439.5h4M1007 439.5h3M635 440.5h1M703 440.5h2M954 440.5h5M1004 440.5h3M636 441.5h1M701 441.5h2M959 441.5h5M999 441.5h5M637 442.5h1M699 442.5h2M964 442.5h8M994 442.5h5M638 443.5h1M698 443.5h1M972 443.5h22M639 444.5h1M697 444.5h1M640 445.5h1M695 445.5h2M641 446.5h1M694 446.5h1M642 447.5h1M692 447.5h2M643 448.5h1M691 448.5h1M644 449.5h1M689 449.5h2M645 450.5h1M687 450.5h2M646 451.5h2M686 451.5h1M648 452.5h1M683 452.5h3M649 453.5h2M678 453.5h5M651 454.5h1M674 454.5h4M652 455.5h3M669 455.5h5M655 456.5h4M663 456.5h6M659 457.5h4" stroke="#0000cd" stroke-width="1" fill="none"/>
<path d="M14.5 266v2M18.5 261v2M48.5 235v2M53.5 229v2M55.5 226v2M57.5 223v2M59.5 220v2M198.5 245v2M202.5 240v2M206.5 235v2M210.5 230v2M214.5 225v2M218.5 220v2M221.5 216v2M222.5 214v2M223.5 212v2M225.5 209v2M226.5 207v2M227.5 205v2M229.5 202v2M230.5 200v2M232.5 197v2M234.5 194v2M235.5 192v2M238.5 188v2M242.5 183v2M248.5 176v2M397.5 154v2M398.5 156v2M400.5 159v2M402.5 162v2M403.5 164v2M405.5 167v2M406.5 169v2M407.5 171v2M409.5 174v2M410.5 176v2M411.5 178v2M413.5 181v2M414.5 183v2M415.5 185v2M416.5 187v2M417.5 189v2M418.5 191v2M419.5 193v2M420.5 195v3M421.5 198v2M422.5 200v2M423.5 202v2M424.5 204v2M425.5 206v2M426.5 208v2M427.5 210v2M428.5 212v3M429.5 215v2M430.5 217v2M431.5 219v3M432.5 222v2M433.5 224v3M434.5 227v2M435.5 229v2M436.5 231v3M437.5 234v3M438.5 237v3M439.5 240v3M440.5 243v4M441.5 247v3M442.5 250v3M443.5 253v3M444.5 256v3M445.5 259v4M446.5 263v3M447.5 266v4M448.5 270v3M449.5 273v4M450.5 277v3M451.5 280v4M452.5 284v3M453.5 287v3M454.5 290v3M455.5 293v3M456.5 296v4M457.5 300v3M458.5 303v3M459.5 306v3M460.5 309v3M461.5 312v4M462.5 316v3M463.5 319v3M464.5 322v4M465.5 326v3M466.5 329v3M467.5 332v4M468.5 336v2M469.5 338v2M470.5 340v2M471.5 342v2M472.5 344v2M473.5 346v2M474.5 348v2M475.5 350v2M476.5 352v2M477.5 354v2M478.5 356v2M479.5 358v3M480.5 361v2M481.5 363v3M482.5 366v2M483.5 368v2M484.5 370v2M485.5 372v2M486.5 374v2M487.5 376v2M488.5 378v2M489.5 380v2M490.5 382v2M491.5 384v2M493.5 387v2M494.5 389v2M496.5 392v2M498.5 395v2M499.5 397v2M502.5 401v2M506.5 406v2M509.5 410v2M510.5 412v2M511.5 414v2M513.5 417v2M514.5 419v2M515.5 421v2M520.5 427v2M584.5 448v2M680.5 462v2M686.5 455v2M690.5 450v2M693.5 446v2M696.5 442v2M699.5 438v2M701.5 435v2M703.5 432v2M705.5 429v2M707.5 426v2M709.5 423v2M712.5 419v2M715.5 415v2M716.5 413v2M717.5 411v2M718.5 409v2M719.5 407v2M720.5 405v2M721.5 403v2M722.5 401v2M723.5 399v2M724.5 397v2M725.5 395v2M727.5 392v2M729.5 389v2M731.5 386v2M733.5 383v2M736.5 379v2M739.5 375v2M741.5 372v2M744.5 368v2M747.5 364v2M752.5 358v2M800.5 374v2M806.5 381v2M810.5 386v2M813.5 390v2M816.5 394v2M819.5 398v2M829.5 409v2M831.5 412v2M833.5 415v2M835.5 418v2M837.5 421v2M838.5 423v2M839.5 425v2M841.5 428v2M842.5 430v2M843.5 432v2M844.5 434v2M845.5 436v2M846.5 438v2M847.5 440v2M848.5 442v2M849.5 444v2M850.5 446v2M851.5 448v2M852.5 450v2M856.5 455v2M950.5 471v2M954.5 466v2M957.5 462v2M958.5 460v2M960.5 457v2M962.5 454v2M963.5 452v2M966.5 448v2M970.5 443v2M976.5 436v2M982.5 429v2M986.5 424v2M990.5 419v2M994.5 414v2M1000.5 407v2M1037.5 379v2M1038.5 377v2M1039.5 375v2M1041.5 372v2M1042.5 370v2M1043.5 368v2M1045.5 365v2M1047.5 362v2M1049.5 359v2M1051.5 356v2M1053.5 353v2M1056.5 349v2M1059.5 345v2M1062.5 341v2M1066.5 336v2M1184.5 357v2M1200.5 374v2M1240.5 412v2M377 143.5h5M373 144.5h4M382 144.5h2M365 145.5h8M384 145.5h2M357 146.5h8M386 146.5h2M354 147.5h3M388 147.5h2M351 148.5h3M390 148.5h1M348 149.5h3M391 149.5h1M346 150.5h2M392 150.5h2M343 151.5h3M394 151.5h1M341 152.5h2M395 152.5h1M336 153.5h5M396 153.5h1M332 154.5h4M331 155.5h1M330 156.5h1M328 157.5h2M327 158.5h1M399 158.5h1M326 159.5h1M325 160.5h1M323 161.5h2M401 161.5h1M321 162.5h2M319 163.5h2M303 164.5h13M317 164.5h2M298 165.5h5M316 165.5h1M293 166.5h5M404 166.5h1M291 167.5h2M289 168.5h2M258 169.5h7M287 169.5h2M256 170.5h2M265 170.5h5M284 170.5h3M254 171.5h2M270 171.5h5M280 171.5h4M252 172.5h2M275 172.5h5M251 173.5h1M408 173.5h1M250 174.5h1M249 175.5h1M247 178.5h1M246 179.5h1M245 180.5h1M412 180.5h1M244 181.5h1M243 182.5h1M241 185.5h1M240 186.5h1M239 187.5h1M237 190.5h1M236 191.5h1M233 196.5h1M231 199.5h1M228 204.5h1M224 211.5h1M77 213.5h11M74 214.5h3M88 214.5h4M71 215.5h3M92 215.5h3M69 216.5h2M95 216.5h2M66 217.5h3M97 217.5h2M63 218.5h3M99 218.5h2M220 218.5h1M60 219.5h3M101 219.5h2M219 219.5h1M103 220.5h2M105 221.5h2M58 222.5h1M107 222.5h2M217 222.5h1M109 223.5h1M216 223.5h1M110 224.5h1M215 224.5h1M56 225.5h1M111 225.5h1M112 226.5h2M114 227.5h1M213 227.5h1M54 228.5h1M115 228.5h1M212 228.5h1M116 229.5h1M211 229.5h1M117 230.5h2M52 231.5h1M119 231.5h2M51 232.5h1M121 232.5h2M209 232.5h1M50 233.5h1M123 233.5h1M208 233.5h1M49 234.5h1M124 234.5h2M207 234.5h1M126 235.5h1M127 236.5h1M47 237.5h1M128 237.5h1M205 237.5h1M46 238.5h1M129 238.5h1M204 238.5h1M45 239.5h1M130 239.5h1M203 239.5h1M44 240.5h1M131 240.5h1M43 241.5h1M132 241.5h1M42 242.5h1M133 242.5h2M201 242.5h1M41 243.5h1M135 243.5h1M200 243.5h1M40 244.5h1M136 244.5h2M199 244.5h1M39 245.5h1M138 245.5h1M38 246.5h1M139 246.5h1M37 247.5h1M140 247.5h2M197 247.5h1M35 248.5h2M142 248.5h2M195 248.5h2M33 249.5h2M144 249.5h2M194 249.5h1M32 250.5h1M146 250.5h2M193 250.5h1M30 251.5h2M148 251.5h3M192 251.5h1M29 252.5h1M151 252.5h2M191 252.5h1M27 253.5h2M153 253.5h2M190 253.5h1M26 254.5h1M155 254.5h2M189 254.5h1M25 255.5h1M157 255.5h2M188 255.5h1M24 256.5h1M159 256.5h3M186 256.5h2M22 257.5h2M162 257.5h2M184 257.5h2M21 258.5h1M164 258.5h3M182 258.5h2M20 259.5h1M167 259.5h2M178 259.5h4M19 260.5h1M169 260.5h3M174 260.5h4M172 261.5h2M17 263.5h1M16 264.5h1M15 265.5h1M13 268.5h1M10 269.5h3M8 270.5h2M6 271.5h2M4 272.5h2M1125 315.5h16M1122 316.5h3M1141 316.5h2M1119 317.5h3M1143 317.5h1M1117 318.5h2M1144 318.5h2M1115 319.5h2M1146 319.5h1M1113 320.5h2M1147 320.5h1M1111 321.5h2M1148 321.5h1M1109 322.5h2M1149 322.5h1M1100 323.5h9M1150 323.5h1M1097 324.5h3M1151 324.5h1M1095 325.5h2M1152 325.5h1M1093 326.5h2M1153 326.5h1M1082 327.5h11M1154 327.5h1M1080 328.5h2M1155 328.5h1M1078 329.5h2M1156 329.5h1M1076 330.5h2M1157 330.5h1M1073 331.5h3M1158 331.5h1M1071 332.5h2M1159 332.5h1M1069 333.5h2M1160 333.5h1M1068 334.5h1M1161 334.5h1M1067 335.5h1M1162 335.5h1M1163 336.5h1M1164 337.5h1M1065 338.5h1M1165 338.5h1M1064 339.5h1M1166 339.5h1M1063 340.5h1M1167 340.5h1M1168 341.5h1M1169 342.5h1M1061 343.5h1M1170 343.5h1M1060 344.5h1M1171 344.5h1M1172 345.5h1M1173 346.5h1M1058 347.5h1M1174 347.5h1M1057 348.5h1M1175 348.5h1M1176 349.5h1M1177 350.5h1M762 351.5h6M1055 351.5h1M1178 351.5h1M760 352.5h2M768 352.5h4M1054 352.5h1M1179 352.5h1M758 353.5h2M772 353.5h2M1180 353.5h1M756 354.5h2M774 354.5h2M1181 354.5h1M755 355.5h1M776 355.5h2M1052 355.5h1M1182 355.5h1M754 356.5h1M778 356.5h1M1183 356.5h1M753 357.5h1M779 357.5h2M781 358.5h1M1050 358.5h1M782 359.5h1M1185 359.5h1M751 360.5h1M783 360.5h2M1186 360.5h1M750 361.5h1M785 361.5h1M1048 361.5h1M1187 361.5h1M749 362.5h1M786 362.5h1M1188 362.5h1M748 363.5h1M787 363.5h1M1189 363.5h1M788 364.5h2M1046 364.5h1M1190 364.5h1M790 365.5h1M1191 365.5h1M746 366.5h1M791 366.5h1M1192 366.5h1M745 367.5h1M792 367.5h2M1044 367.5h1M1193 367.5h1M794 368.5h1M1194 368.5h1M795 369.5h1M1195 369.5h1M743 370.5h1M796 370.5h1M1196 370.5h1M742 371.5h1M797 371.5h1M1197 371.5h1M798 372.5h1M1198 372.5h1M799 373.5h1M1199 373.5h1M740 374.5h1M1040 374.5h1M801 376.5h1M1201 376.5h1M738 377.5h1M802 377.5h1M1202 377.5h1M737 378.5h1M803 378.5h1M1203 378.5h1M804 379.5h1M1204 379.5h1M805 380.5h1M1205 380.5h1M735 381.5h1M1035 381.5h2M1206 381.5h1M734 382.5h1M1033 382.5h2M1207 382.5h1M807 383.5h1M1031 383.5h2M1208 383.5h1M808 384.5h1M1029 384.5h2M1209 384.5h1M732 385.5h1M809 385.5h1M1027 385.5h2M1210 385.5h1M492 386.5h1M1025 386.5h2M1211 386.5h1M1023 387.5h2M1212 387.5h1M730 388.5h1M811 388.5h1M1021 388.5h2M1213 388.5h2M812 389.5h1M1019 389.5h2M1215 389.5h1M1018 390.5h1M1216 390.5h1M495 391.5h1M728 391.5h1M1017 391.5h1M1217 391.5h2M814 392.5h1M1015 392.5h2M1219 392.5h1M815 393.5h1M1014 393.5h1M1220 393.5h1M497 394.5h1M726 394.5h1M1013 394.5h1M1221 394.5h1M1012 395.5h1M1222 395.5h1M817 396.5h1M1011 396.5h1M1223 396.5h1M818 397.5h1M1010 397.5h1M1224 397.5h1M1009 398.5h1M1225 398.5h1M500 399.5h1M1008 399.5h1M1226 399.5h1M501 400.5h1M820 400.5h1M1007 400.5h1M1227 400.5h1M821 401.5h1M1006 401.5h1M1228 401.5h2M822 402.5h1M1005 402.5h1M1230 402.5h1M503 403.5h1M823 403.5h1M1004 403.5h1M1231 403.5h1M504 404.5h1M824 404.5h1M1003 404.5h1M1232 404.5h1M505 405.5h1M825 405.5h1M1002 405.5h1M1233 405.5h1M826 406.5h1M1001 406.5h1M1234 406.5h1M827 407.5h1M1235 407.5h1M507 408.5h1M828 408.5h1M1236 408.5h1M508 409.5h1M999 409.5h1M1237 409.5h1M998 410.5h1M1238 410.5h1M830 411.5h1M997 411.5h1M1239 411.5h1M996 412.5h1M995 413.5h1M832 414.5h1M1241 414.5h1M1298 414.5h3M1242 415.5h1M1295 415.5h3M512 416.5h1M993 416.5h1M1243 416.5h1M1291 416.5h4M714 417.5h1M834 417.5h1M992 417.5h1M1244 417.5h2M1285 417.5h6M713 418.5h1M991 418.5h1M1246 418.5h1M1282 418.5h3M1247 419.5h1M1279 419.5h3M836 420.5h1M1248 420.5h1M1277 420.5h2M711 421.5h1M989 421.5h1M1249 421.5h1M1274 421.5h3M710 422.5h1M988 422.5h1M1250 422.5h1M1272 422.5h2M516 423.5h1M987 423.5h1M1251 423.5h1M1270 423.5h2M517 424.5h1M1252 424.5h1M1268 424.5h2M518 425.5h1M708 425.5h1M1253 425.5h5M1263 425.5h5M519 426.5h1M985 426.5h1M1258 426.5h5M840 427.5h1M984 427.5h1M706 428.5h1M983 428.5h1M521 429.5h1M522 430.5h1M523 431.5h1M704 431.5h1M981 431.5h1M524 432.5h1M980 432.5h1M525 433.5h3M979 433.5h1M528 434.5h2M702 434.5h1M978 434.5h1M530 435.5h2M977 435.5h1M532 436.5h3M535 437.5h2M700 437.5h1M537 438.5h2M975 438.5h1M539 439.5h2M974 439.5h1M541 440.5h2M698 440.5h1M973 440.5h1M543 441.5h3M697 441.5h1M972 441.5h1M546 442.5h2M971 442.5h1M548 443.5h5M560 443.5h12M553 444.5h7M572 444.5h9M695 444.5h1M581 445.5h1M694 445.5h1M969 445.5h1M582 446.5h1M968 446.5h1M583 447.5h1M967 447.5h1M692 448.5h1M691 449.5h1M585 450.5h1M965 450.5h1M586 451.5h1M964 451.5h1M587 452.5h1M689 452.5h1M853 452.5h1M588 453.5h1M688 453.5h1M854 453.5h1M589 454.5h4M687 454.5h1M855 454.5h1M593 455.5h4M597 456.5h5M961 456.5h1M602 457.5h4M685 457.5h1M857 457.5h1M606 458.5h4M684 458.5h1M858 458.5h1M610 459.5h3M683 459.5h1M859 459.5h1M959 459.5h1M613 460.5h2M682 460.5h1M860 460.5h1M615 461.5h1M681 461.5h1M861 461.5h2M616 462.5h2M863 462.5h2M618 463.5h1M865 463.5h2M619 464.5h1M679 464.5h1M867 464.5h1M956 464.5h1M620 465.5h4M678 465.5h1M868 465.5h2M955 465.5h1M624 466.5h4M677 466.5h1M870 466.5h2M628 467.5h3M675 467.5h2M872 467.5h2M631 468.5h2M674 468.5h1M874 468.5h2M953 468.5h1M633 469.5h2M673 469.5h1M876 469.5h3M952 469.5h1M635 470.5h2M672 470.5h1M879 470.5h3M951 470.5h1M637 471.5h1M670 471.5h2M882 471.5h2M638 472.5h1M669 472.5h1M884 472.5h3M639 473.5h2M668 473.5h1M887 473.5h2M949 473.5h1M641 474.5h1M665 474.5h3M889 474.5h2M925 474.5h15M941 474.5h8M642 475.5h1M663 475.5h2M891 475.5h2M922 475.5h3M940 475.5h1M643 476.5h1M661 476.5h2M893 476.5h2M919 476.5h3M644 477.5h4M657 477.5h4M895 477.5h2M916 477.5h3M648 478.5h3M654 478.5h3M897 478.5h2M914 478.5h2M651 479.5h3M899 479.5h2M913 479.5h1M901 480.5h3M911 480.5h2M904 481.5h3M909 481.5h2M907 482.5h2" stroke="#ff0000" stroke-width="1" fill="none"/>
<path d="M14.5 251v2M18.5 246v2M20.5 243v2M21.5 241v2M22.5 238v3M23.5 236v2M24.5 233v3M25.5 231v2M26.5 228v3M27.5 226v2M28.5 224v2M29.5 222v2M30.5 220v2M31.5 218v2M32.5 216v2M33.5 214v2M34.5 212v2M35.5 210v2M37.5 207v2M40.5 203v2M43.5 199v2M44.5 197v2M45.5 195v2M46.5 193v2M47.5 190v3M48.5 188v2M49.5 185v3M50.5 183v2M51.5 181v2M52.5 179v2M77.5 183v2M80.5 187v2M83.5 191v2M84.5 193v2M85.5 195v3M86.5 198v2M87.5 200v3M88.5 203v3M89.5 206v3M90.5 209v2M91.5 211v3M92.5 214v3M93.5 217v4M94.5 221v4M95.5 225v3M96.5 228v4M97.5 232v3M98.5 235v4M99.5 239v4M100.5 243v3M101.5 246v3M102.5 249v3M103.5 252v3M104.5 255v4M105.5 259v3M106.5 262v3M107.5 265v3M108.5 268v3M109.5 271v4M110.5 275v4M111.5 279v3M112.5 282v4M113.5 286v3M114.5 289v4M115.5 293v4M116.5 297v2M117.5 299v2M118.5 301v2M119.5 303v2M121.5 306v2M122.5 308v2M123.5 310v2M133.5 317v2M134.5 315v2M135.5 313v2M136.5 311v2M137.5 309v2M138.5 307v2M139.5 305v2M140.5 303v2M141.5 301v2M143.5 298v2M145.5 295v2M147.5 292v2M148.5 290v2M149.5 287v3M150.5 283v4M151.5 280v3M152.5 277v3M153.5 274v3M154.5 270v4M155.5 267v3M156.5 264v3M157.5 262v2M158.5 259v3M159.5 256v3M160.5 254v2M161.5 251v3M162.5 248v3M163.5 246v2M164.5 244v2M165.5 242v2M166.5 240v2M167.5 238v2M169.5 235v2M170.5 233v2M171.5 231v2M172.5 229v2M173.5 227v2M174.5 224v3M175.5 222v2M176.5 219v3M177.5 217v2M178.5 214v3M179.5 212v2M180.5 209v3M181.5 207v2M182.5 205v2M183.5 203v2M184.5 200v3M185.5 198v2M186.5 196v2M187.5 194v2M188.5 191v3M189.5 189v2M190.5 187v2M191.5 185v2M192.5 183v2M193.5 181v2M194.5 179v2M195.5 177v2M196.5 174v3M197.5 172v2M198.5 170v2M199.5 168v2M200.5 166v2M201.5 164v2M202.5 162v2M203.5 160v2M204.5 158v2M238.5 148v2M242.5 153v2M260.5 158v2M261.5 160v4M262.5 164v3M263.5 167v3M264.5 170v4M265.5 174v3M266.5 177v3M267.5 180v4M268.5 184v2M269.5 186v2M270.5 188v2M271.5 190v2M272.5 192v2M273.5 194v2M274.5 196v2M275.5 198v2M276.5 200v2M285.5 204v2M287.5 201v2M290.5 197v2M293.5 193v2M294.5 191v2M295.5 189v2M297.5 186v2M298.5 184v2M299.5 182v2M300.5 180v2M301.5 176v4M302.5 172v4M303.5 169v3M304.5 165v4M305.5 162v3M306.5 158v4M307.5 154v4M308.5 151v3M309.5 149v2M310.5 147v2M311.5 145v2M312.5 143v2M313.5 141v2M314.5 139v2M315.5 137v2M316.5 135v2M318.5 132v2M322.5 127v2M364.5 110v2M365.5 112v2M366.5 114v3M367.5 117v3M368.5 120v2M369.5 122v3M370.5 125v3M371.5 128v2M372.5 130v3M373.5 133v3M374.5 136v4M375.5 140v3M376.5 143v3M377.5 146v3M378.5 149v4M379.5 153v3M380.5 156v3M381.5 159v4M382.5 163v4M383.5 167v4M384.5 171v3M385.5 174v4M386.5 178v4M387.5 182v4M388.5 186v3M389.5 189v3M390.5 192v4M391.5 196v3M392.5 199v3M393.5 202v3M394.5 205v4M395.5 209v3M396.5 212v3M397.5 215v4M398.5 219v4M399.5 223v3M400.5 226v4M401.5 230v3M402.5 233v4M403.5 237v4M404.5 241v3M405.5 244v4M406.5 248v3M407.5 251v4M408.5 255v3M409.5 258v4M410.5 262v3M411.5 265v4M412.5 269v3M413.5 272v4M414.5 276v4M415.5 280v3M416.5 283v4M417.5 287v3M418.5 290v4M419.5 294v4M420.5 298v3M421.5 301v4M422.5 305v3M423.5 308v3M424.5 311v4M425.5 315v3M426.5 318v3M427.5 321v4M428.5 325v3M429.5 328v4M430.5 332v4M431.5 336v3M432.5 339v4M433.5 343v3M434.5 346v4M435.5 350v4M436.5 354v3M437.5 357v4M438.5 361v3M439.5 364v4M440.5 368v3M441.5 371v4M442.5 375v3M443.5 378v4M444.5 382v3M445.5 385v4M446.5 389v3M447.5 392v4M448.5 396v3M449.5 399v4M450.5 403v3M451.5 406v4M452.5 410v3M453.5 413v3M454.5 416v2M455.5 418v3M456.5 421v3M457.5 424v3M458.5 427v2M459.5 429v3M460.5 432v2M461.5 434v2M463.5 437v2M465.5 440v2M467.5 443v2M502.5 436v2M506.5 431v2M509.5 430v2M510.5 432v2M511.5 434v2M512.5 436v2M513.5 438v2M514.5 440v2M515.5 442v2M542.5 442v2M546.5 447v2M576.5 453v2M581.5 459v2M584.5 463v2M587.5 467v2M600.5 475v2M629.5 483v2M632.5 487v2M635.5 491v2M638.5 495v2M642.5 500v2M652.5 496v2M653.5 494v2M654.5 492v2M655.5 490v2M656.5 487v3M657.5 485v2M658.5 483v2M659.5 481v2M660.5 478v3M661.5 475v3M662.5 472v3M663.5 469v3M664.5 465v4M665.5 462v3M666.5 459v3M667.5 456v3M668.5 453v3M669.5 450v3M670.5 447v3M671.5 444v3M672.5 441v3M673.5 438v3M674.5 435v3M675.5 432v3M676.5 428v4M677.5 424v4M678.5 420v4M679.5 415v5M680.5 411v4M681.5 406v5M682.5 402v4M683.5 398v4M684.5 394v4M685.5 391v3M686.5 388v3M687.5 385v3M688.5 381v4M689.5 378v3M690.5 375v3M691.5 372v3M692.5 369v3M693.5 367v2M694.5 365v2M695.5 363v2M696.5 360v3M697.5 358v2M698.5 356v2M699.5 354v2M700.5 352v2M701.5 350v2M702.5 348v2M703.5 346v2M705.5 343v2M706.5 341v2M707.5 339v2M720.5 328v2M750.5 326v2M754.5 331v2M756.5 334v2M757.5 336v2M758.5 338v2M759.5 340v3M760.5 343v2M761.5 345v3M762.5 348v2M763.5 350v2M764.5 352v4M765.5 356v4M766.5 360v4M767.5 364v4M768.5 368v4M769.5 372v4M770.5 376v4M771.5 380v4M772.5 384v4M773.5 388v3M774.5 391v3M775.5 394v3M776.5 397v2M777.5 399v3M778.5 402v3M779.5 405v3M780.5 408v3M781.5 411v2M782.5 413v3M783.5 416v2M784.5 418v3M785.5 421v2M786.5 423v3M787.5 426v2M788.5 428v2M792.5 433v2M797.5 439v2M800.5 443v2M803.5 447v2M829.5 457v2M831.5 460v2M833.5 463v2M835.5 466v2M837.5 469v2M838.5 471v2M839.5 473v2M840.5 475v2M841.5 477v2M842.5 479v2M843.5 481v2M848.5 487v2M910.5 483v2M914.5 478v2M917.5 474v2M918.5 472v2M919.5 470v2M921.5 467v2M922.5 465v2M923.5 463v2M925.5 460v2M926.5 458v2M927.5 456v2M929.5 453v2M930.5 451v2M931.5 449v2M957.5 433v2M958.5 431v2M960.5 428v2M962.5 425v2M963.5 423v2M964.5 421v2M965.5 419v2M966.5 417v2M967.5 414v3M968.5 412v2M969.5 409v3M970.5 407v2M971.5 405v2M972.5 401v4M973.5 397v4M974.5 393v4M975.5 389v4M976.5 384v5M977.5 380v4M978.5 376v4M979.5 372v4M980.5 368v4M981.5 365v3M982.5 363v2M983.5 360v3M984.5 357v3M985.5 354v3M986.5 352v2M987.5 349v3M988.5 347v2M1005.5 349v2M1006.5 351v2M1007.5 353v2M1009.5 356v2M1010.5 358v2M1011.5 360v2M1036.5 372v2M1037.5 370v2M1038.5 368v2M1039.5 365v3M1040.5 363v2M1041.5 360v3M1042.5 358v2M1043.5 356v2M1044.5 353v3M1045.5 350v3M1046.5 347v3M1047.5 344v3M1048.5 341v3M1049.5 338v3M1050.5 335v3M1051.5 332v3M1052.5 329v3M1053.5 326v3M1054.5 324v2M1055.5 321v3M1056.5 318v3M1057.5 315v3M1058.5 313v2M1059.5 310v3M1060.5 307v3M1061.5 305v2M1062.5 303v2M1063.5 301v2M1064.5 299v2M1065.5 297v2M1066.5 295v2M1067.5 293v2M1068.5 291v2M1101.5 293v2M1102.5 295v2M1103.5 297v2M1104.5 299v2M1105.5 301v2M1106.5 303v2M1107.5 305v2M1118.5 317v2M1122.5 322v2M1128.5 329v2M1133.5 335v2M1134.5 337v2M1135.5 339v2M1137.5 342v2M1138.5 344v2M1139.5 346v2M1140.5 348v2M1141.5 350v2M1142.5 352v2M1143.5 354v2M1144.5 356v3M1145.5 359v2M1146.5 361v2M1147.5 363v2M1148.5 365v2M1149.5 367v2M1150.5 369v2M1152.5 372v2M1154.5 375v2M1155.5 377v2M1213.5 416v2M1215.5 419v2M1217.5 422v2M1219.5 425v2M1268.5 441v2M1269.5 439v2M1270.5 436v3M1271.5 434v2M1272.5 431v3M1273.5 429v2M1274.5 426v3M1275.5 424v2M1276.5 421v3M1277.5 418v3M1278.5 416v2M1279.5 413v3M1280.5 410v3M1281.5 407v3M1282.5 405v2M1283.5 402v3M1284.5 399v3M1285.5 397v2M1286.5 395v2M1287.5 393v2M1288.5 391v2M1289.5 389v2M1290.5 387v2M1291.5 385v2M1292.5 382v3M1293.5 380v2M1294.5 378v2M1295.5 376v2M1296.5 373v3M1297.5 371v2M1298.5 369v2M1299.5 367v2M1300.5 365v2M355 106.5h3M353 107.5h2M358 107.5h2M351 108.5h2M360 108.5h2M349 109.5h2M362 109.5h2M347 110.5h2M344 111.5h3M341 112.5h3M339 113.5h2M337 114.5h2M335 115.5h2M334 116.5h1M332 117.5h2M331 118.5h1M330 119.5h1M329 120.5h1M328 121.5h1M327 122.5h1M326 123.5h1M325 124.5h1M324 125.5h1M323 126.5h1M321 129.5h1M320 130.5h1M319 131.5h1M317 134.5h1M232 146.5h5M228 147.5h4M237 147.5h1M227 148.5h1M225 149.5h2M224 150.5h1M239 150.5h1M223 151.5h1M240 151.5h1M221 152.5h2M241 152.5h1M219 153.5h2M251 153.5h2M216 154.5h3M249 154.5h2M253 154.5h2M213 155.5h3M243 155.5h1M246 155.5h3M255 155.5h2M209 156.5h4M244 156.5h2M257 156.5h2M205 157.5h4M259 157.5h1M59 172.5h2M58 173.5h1M61 173.5h1M57 174.5h1M62 174.5h1M56 175.5h1M63 175.5h1M55 176.5h1M64 176.5h1M54 177.5h1M65 177.5h1M53 178.5h1M66 178.5h1M67 179.5h1M68 180.5h3M71 181.5h5M76 182.5h1M78 185.5h1M79 186.5h1M296 188.5h1M81 189.5h1M82 190.5h1M292 195.5h1M291 196.5h1M289 199.5h1M288 200.5h1M42 201.5h1M41 202.5h1M277 202.5h1M278 203.5h3M286 203.5h1M281 204.5h3M39 205.5h1M284 205.5h1M38 206.5h1M36 209.5h1M168 237.5h1M19 245.5h1M17 248.5h1M16 249.5h1M15 250.5h1M13 253.5h1M9 254.5h4M5 255.5h4M4 256.5h1M1076 283.5h2M1075 284.5h1M1078 284.5h7M1074 285.5h1M1085 285.5h2M1073 286.5h1M1087 286.5h2M1072 287.5h1M1089 287.5h2M1071 288.5h1M1091 288.5h1M1070 289.5h1M1092 289.5h3M1069 290.5h1M1095 290.5h2M1097 291.5h2M1099 292.5h2M146 294.5h1M144 297.5h1M142 300.5h1M120 305.5h1M1108 307.5h1M1109 308.5h1M1110 309.5h1M1111 310.5h1M1112 311.5h1M124 312.5h1M1113 312.5h1M125 313.5h1M1114 313.5h1M126 314.5h1M1115 314.5h1M127 315.5h2M1116 315.5h1M129 316.5h1M1117 316.5h1M130 317.5h1M131 318.5h1M132 319.5h1M1119 319.5h1M732 320.5h10M1120 320.5h1M730 321.5h2M742 321.5h2M1121 321.5h1M728 322.5h2M744 322.5h2M726 323.5h2M746 323.5h2M724 324.5h2M748 324.5h1M1123 324.5h1M723 325.5h1M749 325.5h1M1124 325.5h1M722 326.5h1M1125 326.5h1M721 327.5h1M1126 327.5h1M751 328.5h1M1127 328.5h1M752 329.5h1M719 330.5h1M753 330.5h1M718 331.5h1M1129 331.5h1M717 332.5h1M1130 332.5h1M716 333.5h1M755 333.5h1M1131 333.5h1M714 334.5h2M1132 334.5h1M713 335.5h1M711 336.5h2M709 337.5h2M708 338.5h1M996 340.5h1M995 341.5h1M997 341.5h1M1136 341.5h1M994 342.5h1M998 342.5h1M992 343.5h2M999 343.5h1M991 344.5h1M1000 344.5h1M704 345.5h1M990 345.5h1M1001 345.5h1M989 346.5h1M1002 346.5h1M1003 347.5h1M1004 348.5h1M1008 355.5h1M1012 362.5h1M1013 363.5h1M1014 364.5h1M1015 365.5h1M1016 366.5h1M1017 367.5h1M1018 368.5h1M1019 369.5h1M1020 370.5h2M1022 371.5h2M1151 371.5h1M1024 372.5h2M1026 373.5h2M1029 373.5h7M1028 374.5h1M1153 374.5h1M1156 379.5h1M1157 380.5h1M1158 381.5h1M1159 382.5h1M1160 383.5h1M1161 384.5h1M1162 385.5h1M1163 386.5h1M1164 387.5h2M1166 388.5h1M1167 389.5h1M1168 390.5h1M1169 391.5h1M1170 392.5h1M1171 393.5h1M1172 394.5h1M1173 395.5h2M1175 396.5h1M1176 397.5h2M1186 397.5h4M1178 398.5h1M1183 398.5h3M1190 398.5h1M1179 399.5h1M1181 399.5h2M1191 399.5h1M1180 400.5h1M1192 400.5h1M1193 401.5h1M1194 402.5h1M1195 403.5h1M1196 404.5h2M1198 405.5h1M1199 406.5h1M1200 407.5h1M1201 408.5h1M1202 409.5h1M1203 410.5h1M1204 411.5h2M1206 412.5h2M1208 413.5h2M1210 414.5h2M1212 415.5h1M1214 418.5h1M1216 421.5h1M1218 424.5h1M961 427.5h1M1220 427.5h1M1221 428.5h2M508 429.5h1M1223 429.5h2M507 430.5h1M789 430.5h1M959 430.5h1M1225 430.5h2M790 431.5h1M1227 431.5h1M791 432.5h1M1228 432.5h2M505 433.5h1M1230 433.5h2M504 434.5h1M1232 434.5h2M503 435.5h1M793 435.5h1M956 435.5h1M1234 435.5h2M462 436.5h1M794 436.5h1M955 436.5h1M1236 436.5h2M795 437.5h1M953 437.5h2M1238 437.5h2M501 438.5h1M796 438.5h1M952 438.5h1M1240 438.5h1M464 439.5h1M490 439.5h11M951 439.5h1M1241 439.5h2M487 440.5h3M539 440.5h2M940 440.5h2M950 440.5h1M1243 440.5h2M485 441.5h2M538 441.5h1M541 441.5h1M564 441.5h1M798 441.5h1M939 441.5h1M942 441.5h8M1245 441.5h1M466 442.5h1M475 442.5h10M537 442.5h1M562 442.5h2M565 442.5h1M799 442.5h1M938 442.5h1M1246 442.5h1M473 443.5h2M536 443.5h1M560 443.5h2M566 443.5h1M937 443.5h1M1247 443.5h2M1267 443.5h1M470 444.5h3M516 444.5h2M535 444.5h1M543 444.5h1M558 444.5h2M567 444.5h1M936 444.5h1M1249 444.5h1M1266 444.5h1M468 445.5h2M518 445.5h1M533 445.5h2M544 445.5h1M556 445.5h2M568 445.5h1M801 445.5h1M935 445.5h1M1250 445.5h1M1265 445.5h1M519 446.5h2M532 446.5h1M545 446.5h1M555 446.5h1M569 446.5h1M802 446.5h1M934 446.5h1M1251 446.5h1M1264 446.5h1M521 447.5h1M529 447.5h3M553 447.5h2M570 447.5h1M933 447.5h1M1252 447.5h3M1263 447.5h1M522 448.5h2M526 448.5h3M551 448.5h2M571 448.5h1M932 448.5h1M1255 448.5h3M1262 448.5h1M524 449.5h2M547 449.5h1M550 449.5h1M572 449.5h1M804 449.5h4M1258 449.5h2M1261 449.5h1M548 450.5h2M573 450.5h1M808 450.5h4M1260 450.5h1M574 451.5h1M812 451.5h4M575 452.5h1M816 452.5h4M820 453.5h3M823 454.5h3M577 455.5h1M826 455.5h2M928 455.5h1M578 456.5h1M828 456.5h1M579 457.5h1M580 458.5h1M830 459.5h1M582 461.5h1M583 462.5h1M832 462.5h1M924 462.5h1M585 465.5h1M834 465.5h1M586 466.5h1M836 468.5h1M588 469.5h1M920 469.5h1M589 470.5h5M594 471.5h3M597 472.5h1M598 473.5h1M599 474.5h1M916 476.5h1M601 477.5h1M915 477.5h1M602 478.5h1M603 479.5h1M892 479.5h1M604 480.5h2M890 480.5h2M893 480.5h2M913 480.5h1M606 481.5h2M888 481.5h2M895 481.5h2M912 481.5h1M608 482.5h2M627 482.5h2M886 482.5h2M897 482.5h2M911 482.5h1M610 483.5h2M626 483.5h1M844 483.5h1M885 483.5h1M899 483.5h1M612 484.5h3M624 484.5h2M845 484.5h1M883 484.5h2M900 484.5h3M615 485.5h2M623 485.5h1M630 485.5h1M846 485.5h1M882 485.5h1M903 485.5h3M909 485.5h1M617 486.5h2M622 486.5h1M631 486.5h1M847 486.5h1M881 486.5h1M906 486.5h3M619 487.5h3M879 487.5h2M878 488.5h1M633 489.5h1M849 489.5h1M877 489.5h1M634 490.5h1M850 490.5h1M874 490.5h3M851 491.5h1M872 491.5h2M852 492.5h2M870 492.5h2M636 493.5h1M854 493.5h2M868 493.5h2M637 494.5h1M856 494.5h2M864 494.5h4M858 495.5h2M861 495.5h3M860 496.5h1M639 497.5h1M651 497.5h1M640 498.5h1M650 498.5h1M641 499.5h1M649 499.5h1M648 500.5h1M647 501.5h1M643 502.5h1M646 502.5h1M644 503.5h2" stroke="#ffa500" stroke-width="1" fill="none"/>
<rect x="4" y="153" width="1646" height="2" fill="#ff0000"/>
<rect x="3" y="151" width="6" height="6" fill="#ff0000"/><rect x="5" y="153" width="2" height="2" fill="#fff"/>
<rect x="1644" y="151" width="6" height="6" fill="#ff0000"/><rect x="1646" y="153" width="2" height="2" fill="#fff"/>
<rect x="4" y="281" width="1646" height="2" fill="#ff0000"/>
<rect x="3" y="279" width="6" height="6" fill="#ff0000"/><rect x="5" y="281" width="2" height="2" fill="#fff"/>
<rect x="1644" y="279" width="6" height="6" fill="#ff0000"/><rect x="1646" y="281" width="2" height="2" fill="#fff"/>
<rect x="4" y="409" width="1646" height="2" fill="#00ff00"/>
<rect x="3" y="407" width="6" height="6" fill="#00ff00"/><rect x="5" y="409" width="2" height="2" fill="#fff"/>
<rect x="1644" y="407" width="6" height="6" fill="#00ff00"/><rect x="1646" y="409" width="2" height="2" fill="#fff"/>
<rect x="4" y="576" width="1646" height="2" fill="#0000ff"/>
<rect x="3" y="574" width="6" height="6" fill="#0000ff"/><rect x="5" y="576" width="2" height="2" fill="#fff"/>
<rect x="1644" y="574" width="6" height="6" fill="#0000ff"/><rect x="1646" y="576" width="2" height="2" fill="#fff"/>
<path d="M205.5 633v2M206.5 635v2M208.5 638v2M210.5 641v2M211.5 643v2M240.5 640v2M469.5 672v2M470.5 670v2M471.5 668v2M473.5 665v2M474.5 663v2M475.5 661v2M504.5 662v2M589.5 662v2M591.5 659v2M593.5 656v2M595.5 653v2M645.5 658v2M648.5 654v2M651.5 650v2M752.5 641v2M856.5 659v2M904.5 652v2M949.5 647v2M951.5 644v2M953.5 641v2M955.5 638v2M1102.5 637v2M1106.5 642v2M1142.5 651v2M1146.5 656v2M1261.5 657v2M1262.5 655v2M1263.5 653v2M1265.5 650v2M1266.5 648v2M1267.5 646v2M1065 628.5h4M1058 629.5h7M1069 629.5h1M1044 630.5h8M1053 630.5h5M1070 630.5h1M1043 631.5h1M1052 631.5h1M1071 631.5h1M195 632.5h10M979 632.5h3M1041 632.5h2M1072 632.5h2M191 633.5h4M707 633.5h3M724 633.5h3M977 633.5h2M982 633.5h4M1040 633.5h1M1074 633.5h1M188 634.5h3M332 634.5h1M690 634.5h6M703 634.5h4M710 634.5h2M721 634.5h3M727 634.5h7M963 634.5h5M974 634.5h3M986 634.5h6M1039 634.5h1M1075 634.5h1M185 635.5h3M228 635.5h4M331 635.5h1M333 635.5h2M685 635.5h5M696 635.5h7M712 635.5h3M718 635.5h3M734 635.5h2M961 635.5h2M968 635.5h6M992 635.5h5M1037 635.5h2M1076 635.5h10M1099 635.5h2M182 636.5h3M226 636.5h2M232 636.5h5M307 636.5h2M330 636.5h1M335 636.5h2M676 636.5h9M715 636.5h3M736 636.5h2M958 636.5h3M997 636.5h1M1035 636.5h2M1086 636.5h2M1097 636.5h2M1101 636.5h1M180 637.5h2M207 637.5h1M224 637.5h2M237 637.5h1M305 637.5h2M309 637.5h2M329 637.5h1M337 637.5h2M674 637.5h2M738 637.5h2M741 637.5h8M956 637.5h2M998 637.5h1M1033 637.5h2M1088 637.5h2M1095 637.5h2M1276 637.5h9M52 638.5h4M177 638.5h3M222 638.5h2M238 638.5h1M292 638.5h4M302 638.5h3M311 638.5h2M328 638.5h1M339 638.5h1M672 638.5h2M740 638.5h1M749 638.5h1M999 638.5h1M1030 638.5h3M1090 638.5h2M1093 638.5h2M1275 638.5h1M1285 638.5h2M27 639.5h3M50 639.5h2M56 639.5h5M175 639.5h2M221 639.5h1M239 639.5h1M291 639.5h1M296 639.5h6M313 639.5h2M327 639.5h1M340 639.5h12M670 639.5h2M750 639.5h1M1000 639.5h1M1027 639.5h3M1092 639.5h1M1103 639.5h1M1274 639.5h1M1287 639.5h2M25 640.5h2M30 640.5h2M48 640.5h2M61 640.5h1M163 640.5h9M173 640.5h2M209 640.5h1M219 640.5h2M290 640.5h1M315 640.5h1M326 640.5h1M352 640.5h4M669 640.5h1M751 640.5h1M954 640.5h1M1001 640.5h1M1024 640.5h3M1104 640.5h1M1273 640.5h1M1289 640.5h2M1297 640.5h4M23 641.5h2M32 641.5h2M46 641.5h2M62 641.5h1M161 641.5h2M172 641.5h1M217 641.5h2M289 641.5h1M316 641.5h8M325 641.5h1M356 641.5h2M665 641.5h4M916 641.5h9M1002 641.5h1M1021 641.5h3M1105 641.5h1M1272 641.5h1M1291 641.5h1M1293 641.5h4M21 642.5h2M34 642.5h2M45 642.5h1M63 642.5h1M158 642.5h3M216 642.5h1M241 642.5h1M288 642.5h1M324 642.5h1M358 642.5h1M661 642.5h4M915 642.5h1M925 642.5h2M1003 642.5h1M1013 642.5h8M1271 642.5h1M1292 642.5h1M20 643.5h1M36 643.5h9M64 643.5h1M156 643.5h2M214 643.5h2M242 643.5h1M287 643.5h1M359 643.5h2M659 643.5h2M753 643.5h1M914 643.5h1M927 643.5h2M952 643.5h1M1004 643.5h9M1270 643.5h1M19 644.5h1M65 644.5h1M153 644.5h3M213 644.5h1M243 644.5h1M249 644.5h6M286 644.5h1M361 644.5h1M658 644.5h1M754 644.5h1M912 644.5h2M929 644.5h2M1107 644.5h1M1269 644.5h1M18 645.5h1M66 645.5h1M151 645.5h2M212 645.5h1M244 645.5h5M255 645.5h5M285 645.5h1M362 645.5h2M657 645.5h1M755 645.5h1M911 645.5h1M931 645.5h1M1108 645.5h12M1268 645.5h1M17 646.5h1M67 646.5h1M149 646.5h2M260 646.5h1M281 646.5h4M364 646.5h1M655 646.5h2M756 646.5h1M910 646.5h1M932 646.5h2M950 646.5h1M1120 646.5h4M16 647.5h1M68 647.5h9M144 647.5h5M261 647.5h1M278 647.5h3M365 647.5h3M654 647.5h1M757 647.5h2M909 647.5h1M934 647.5h2M1124 647.5h8M15 648.5h1M77 648.5h2M140 648.5h4M262 648.5h1M276 648.5h2M368 648.5h2M653 648.5h1M759 648.5h1M868 648.5h3M908 648.5h1M936 648.5h2M1132 648.5h8M4 649.5h4M14 649.5h1M79 649.5h1M139 649.5h1M263 649.5h1M274 649.5h2M370 649.5h2M652 649.5h1M760 649.5h2M796 649.5h1M867 649.5h1M871 649.5h5M907 649.5h1M938 649.5h2M941 649.5h8M1140 649.5h1M1180 649.5h1M8 650.5h3M13 650.5h1M80 650.5h2M138 650.5h1M264 650.5h1M273 650.5h1M372 650.5h2M762 650.5h1M794 650.5h2M797 650.5h1M866 650.5h1M876 650.5h2M906 650.5h1M940 650.5h1M1141 650.5h1M1178 650.5h2M1181 650.5h2M11 651.5h2M82 651.5h1M136 651.5h2M265 651.5h1M271 651.5h2M374 651.5h2M763 651.5h1M793 651.5h1M798 651.5h1M864 651.5h2M878 651.5h2M905 651.5h1M1176 651.5h2M1183 651.5h2M83 652.5h1M135 652.5h1M266 652.5h1M270 652.5h1M376 652.5h2M596 652.5h5M650 652.5h1M764 652.5h2M791 652.5h2M799 652.5h1M863 652.5h1M880 652.5h1M1156 652.5h11M1174 652.5h2M1185 652.5h2M1264 652.5h1M84 653.5h3M134 653.5h1M267 653.5h1M269 653.5h1M378 653.5h2M601 653.5h4M649 653.5h1M766 653.5h2M790 653.5h1M800 653.5h1M862 653.5h1M881 653.5h2M1143 653.5h1M1155 653.5h1M1167 653.5h5M1173 653.5h1M1187 653.5h1M87 654.5h2M133 654.5h1M268 654.5h1M380 654.5h2M561 654.5h6M605 654.5h4M768 654.5h1M789 654.5h1M801 654.5h1M861 654.5h1M883 654.5h1M903 654.5h1M1144 654.5h1M1154 654.5h1M1172 654.5h1M1188 654.5h4M89 655.5h2M128 655.5h5M382 655.5h2M558 655.5h3M567 655.5h2M594 655.5h1M609 655.5h3M769 655.5h2M784 655.5h5M802 655.5h1M818 655.5h13M860 655.5h1M884 655.5h8M902 655.5h1M1145 655.5h1M1152 655.5h2M1192 655.5h4M1211 655.5h3M1227 655.5h3M91 656.5h2M124 656.5h4M384 656.5h1M533 656.5h9M556 656.5h2M569 656.5h2M612 656.5h8M647 656.5h1M771 656.5h1M773 656.5h11M803 656.5h1M813 656.5h5M831 656.5h5M859 656.5h1M892 656.5h5M901 656.5h1M1151 656.5h1M1196 656.5h5M1207 656.5h4M1214 656.5h3M1224 656.5h3M1230 656.5h3M93 657.5h2M123 657.5h1M385 657.5h2M529 657.5h4M542 657.5h2M553 657.5h3M571 657.5h3M620 657.5h8M646 657.5h1M772 657.5h1M804 657.5h9M836 657.5h2M858 657.5h1M897 657.5h4M1150 657.5h1M1201 657.5h6M1217 657.5h3M1221 657.5h3M1233 657.5h3M95 658.5h1M122 658.5h1M387 658.5h10M508 658.5h2M525 658.5h4M544 658.5h2M551 658.5h2M574 658.5h6M592 658.5h1M628 658.5h12M838 658.5h1M857 658.5h1M1147 658.5h1M1149 658.5h1M1220 658.5h1M1236 658.5h16M96 659.5h2M106 659.5h4M120 659.5h2M397 659.5h5M507 659.5h1M510 659.5h2M523 659.5h2M546 659.5h2M549 659.5h2M580 659.5h2M640 659.5h4M839 659.5h1M1148 659.5h1M1252 659.5h9M98 660.5h1M103 660.5h3M110 660.5h2M119 660.5h1M402 660.5h3M476 660.5h3M506 660.5h1M512 660.5h1M521 660.5h2M548 660.5h1M582 660.5h1M644 660.5h1M840 660.5h1M99 661.5h1M101 661.5h2M112 661.5h2M118 661.5h1M405 661.5h3M479 661.5h3M505 661.5h1M513 661.5h2M519 661.5h2M583 661.5h2M590 661.5h1M841 661.5h1M855 661.5h1M100 662.5h1M114 662.5h2M117 662.5h1M408 662.5h2M482 662.5h2M515 662.5h1M517 662.5h2M585 662.5h1M842 662.5h1M854 662.5h1M116 663.5h1M410 663.5h3M484 663.5h8M516 663.5h1M586 663.5h1M843 663.5h1M853 663.5h1M413 664.5h3M492 664.5h3M503 664.5h1M587 664.5h2M844 664.5h9M416 665.5h2M495 665.5h3M502 665.5h1M418 666.5h3M498 666.5h2M501 666.5h1M421 667.5h3M472 667.5h1M500 667.5h1M424 668.5h2M426 669.5h3M429 670.5h6M435 671.5h11M446 672.5h3M449 673.5h3M452 674.5h17" stroke="#1e90ff" stroke-width="1" fill="none"/>
<path d="M1098 710.5h1M1102 710.5h3M1108 710.5h3M1114 710.5h3M1120 710.5h1M1096 711.5h2M1121 711.5h2M1126 711.5h3M1085 712.5h2M1090 712.5h3M1132 712.5h3M1079 713.5h2M1084 713.5h1M1138 713.5h1M1074 714.5h1M1078 714.5h1M1139 714.5h2M1072 715.5h2M1061 716.5h2M1066 716.5h3M1144 716.5h3M1054 717.5h3M1060 717.5h1M1048 718.5h3M1150 718.5h3M364 719.5h3M370 719.5h3M1042 719.5h3M354 720.5h1M358 720.5h3M376 720.5h3M382 720.5h1M760 720.5h3M766 720.5h3M1036 720.5h3M1156 720.5h2M256 721.5h3M262 721.5h3M352 721.5h2M383 721.5h2M755 721.5h2M772 721.5h3M778 721.5h2M1031 721.5h2M1158 721.5h1M250 722.5h3M268 722.5h3M274 722.5h2M346 722.5h3M388 722.5h3M754 722.5h1M780 722.5h1M784 722.5h2M1030 722.5h1M246 723.5h1M276 723.5h1M280 723.5h2M340 723.5h3M786 723.5h1M1024 723.5h3M1162 723.5h2M244 724.5h2M282 724.5h1M286 724.5h3M292 724.5h3M335 724.5h2M394 724.5h2M749 724.5h2M790 724.5h2M1019 724.5h2M1164 724.5h1M298 725.5h3M328 725.5h3M334 725.5h1M396 725.5h1M748 725.5h1M792 725.5h1M1018 725.5h1M1168 725.5h2M238 726.5h3M304 726.5h3M310 726.5h3M316 726.5h3M322 726.5h3M400 726.5h2M743 726.5h2M796 726.5h2M1170 726.5h1M402 727.5h1M742 727.5h1M798 727.5h1M1013 727.5h2M232 728.5h3M1012 728.5h1M1174 728.5h2M406 729.5h2M737 729.5h2M802 729.5h2M1006 729.5h3M1176 729.5h1M226 730.5h3M408 730.5h1M736 730.5h1M804 730.5h1M1001 730.5h2M808 731.5h2M1000 731.5h1M1180 731.5h2M222 732.5h1M412 732.5h1M731 732.5h2M810 732.5h1M995 732.5h2M1182 732.5h1M220 733.5h2M413 733.5h2M730 733.5h1M994 733.5h1M1186 733.5h1M814 734.5h2M1187 734.5h2M216 735.5h1M726 735.5h1M816 735.5h1M990 735.5h1M214 736.5h2M418 736.5h1M725 736.5h1M988 736.5h2M1192 736.5h2M419 737.5h1M724 737.5h1M820 737.5h3M1194 737.5h1M210 738.5h1M420 738.5h1M982 738.5h3M1198 738.5h2M208 739.5h2M720 739.5h1M826 739.5h1M1200 739.5h1M718 740.5h2M827 740.5h2M978 740.5h1M1204 740.5h3M88 741.5h3M94 741.5h3M100 741.5h3M203 741.5h2M424 741.5h1M976 741.5h2M1210 741.5h1M82 742.5h3M106 742.5h3M202 742.5h1M425 742.5h1M832 742.5h1M1211 742.5h2M112 743.5h3M426 743.5h1M714 743.5h1M833 743.5h2M971 743.5h2M1216 743.5h1M77 744.5h2M118 744.5h2M197 744.5h2M713 744.5h1M970 744.5h1M1217 744.5h2M76 745.5h1M120 745.5h1M196 745.5h1M712 745.5h1M838 745.5h3M966 745.5h1M1222 745.5h3M72 746.5h1M124 746.5h3M430 746.5h1M964 746.5h2M1228 746.5h3M70 747.5h2M130 747.5h1M192 747.5h1M431 747.5h1M844 747.5h3M960 747.5h1M1234 747.5h1M131 748.5h2M190 748.5h2M432 748.5h1M958 748.5h2M1235 748.5h2M65 749.5h2M707 749.5h2M850 749.5h1M953 749.5h2M1240 749.5h3M64 750.5h1M136 750.5h2M184 750.5h3M706 750.5h1M851 750.5h2M952 750.5h1M1246 750.5h2M1294 750.5h3M138 751.5h1M180 751.5h1M856 751.5h3M941 751.5h2M946 751.5h3M1248 751.5h1M1289 751.5h2M59 752.5h2M142 752.5h3M178 752.5h2M436 752.5h2M701 752.5h2M862 752.5h2M936 752.5h1M940 752.5h1M1252 752.5h3M1288 752.5h1M58 753.5h1M148 753.5h3M173 753.5h2M438 753.5h1M700 753.5h1M864 753.5h1M934 753.5h2M1258 753.5h3M1264 753.5h3M1271 753.5h2M1276 753.5h3M1282 753.5h3M154 754.5h3M160 754.5h3M166 754.5h3M172 754.5h1M868 754.5h3M928 754.5h3M1270 754.5h1M53 755.5h2M874 755.5h3M880 755.5h2M922 755.5h3M52 756.5h1M442 756.5h1M696 756.5h1M882 756.5h1M886 756.5h3M48 757.5h1M443 757.5h2M694 757.5h2M892 757.5h3M916 757.5h3M46 758.5h2M898 758.5h3M904 758.5h3M910 758.5h3M41 760.5h2M688 760.5h3M40 761.5h1M448 761.5h1M449 762.5h1M683 762.5h2M34 763.5h3M450 763.5h1M682 763.5h1M30 765.5h1M676 765.5h3M28 766.5h2M454 766.5h1M455 767.5h1M671 767.5h2M23 768.5h2M456 768.5h1M670 768.5h1M22 769.5h1M665 769.5h2M18 770.5h1M664 770.5h1M16 771.5h2M658 771.5h3M460 772.5h2M652 772.5h3M11 773.5h2M462 773.5h1M646 773.5h3M10 774.5h1M640 774.5h3M6 775.5h1M628 775.5h3M634 775.5h3M4 776.5h2M466 776.5h1M618 776.5h1M622 776.5h3M467 777.5h1M610 777.5h3M616 777.5h2M468 778.5h1M604 778.5h3M599 779.5h2M472 780.5h1M598 780.5h1M473 781.5h1M592 781.5h3M474 782.5h1M587 782.5h2M580 783.5h3M586 783.5h1M478 784.5h2M574 784.5h3M480 785.5h1M569 785.5h2M568 786.5h1M484 787.5h2M562 787.5h3M486 788.5h1M557 788.5h2M490 789.5h1M551 789.5h2M556 789.5h1M491 790.5h2M546 790.5h1M550 790.5h1M496 791.5h1M544 791.5h2M497 792.5h2M538 792.5h3M502 793.5h3M528 793.5h1M532 793.5h3M508 794.5h3M514 794.5h2M520 794.5h3M526 794.5h2M516 795.5h1" stroke="#ff0000" stroke-width="1" fill="none"/>
</svg>
<div class="t" style="left:1656px;top:24px;color:#000;">0.70985</div>
<div class="t" style="left:1656px;top:57px;color:#000;">0.70725</div>
<div class="t" style="left:1656px;top:90px;color:#000;">0.70470</div>
<div class="t" style="left:1656px;top:123px;color:#000;">0.70210</div>
<div class="t" style="left:1656px;top:156px;color:#000;">0.69955</div>
<div class="t" style="left:1656px;top:189px;color:#000;">0.69695</div>
<div class="t" style="left:1656px;top:222px;color:#000;">0.69440</div>
<div class="t" style="left:1656px;top:255px;color:#000;">0.69180</div>
<div class="t" style="left:1656px;top:288px;color:#000;">0.68925</div>
<div class="t" style="left:1656px;top:321px;color:#000;">0.68665</div>
<div class="t" style="left:1656px;top:387px;color:#000;">0.68150</div>
<div class="t" style="left:1656px;top:420px;color:#000;">0.67895</div>
<div class="t" style="left:1656px;top:453px;color:#000;">0.67640</div>
<div class="t" style="left:1656px;top:486px;color:#000;">0.67380</div>
<div class="t" style="left:1656px;top:519px;color:#000;">0.67125</div>
<div class="t" style="left:1656px;top:552px;color:#000;">0.66865</div>
<div class="t" style="left:1656px;top:585px;color:#000;">0.66610</div>
<div class="t" style="left:1656px;top:354px;color:#000;">0.68410</div>
<div style="position:absolute;left:1652px;top:148px;width:40px;height:11px;background:#ff0000"></div>
<div style="position:absolute;left:1652px;top:276px;width:40px;height:11px;background:#ff0000"></div>
<div style="position:absolute;left:1652px;top:404px;width:40px;height:11px;background:#00ff00"></div>
<div style="position:absolute;left:1652px;top:571px;width:40px;height:11px;background:#0000ff"></div>
<div style="position:absolute;left:1652px;top:356px;width:40px;height:11px;background:#000000"></div>
<div class="t" style="left:1656px;top:149px;color:#fff;">0.70000</div>
<div class="t" style="left:1656px;top:277px;color:#fff;">0.69004</div>
<div class="t" style="left:1656px;top:405px;color:#fff;">0.68007</div>
<div class="t" style="left:1656px;top:572px;color:#fff;">0.66707</div>
<div class="t" style="left:1656px;top:357px;color:#fff;">0.68391</div>
<div class="t" style="left:1654px;top:597px;color:#000;">100</div>
<div class="t" style="left:1654px;top:622px;color:#000;">70</div>
<div class="t" style="left:1654px;top:663px;color:#000;">30</div>
<div class="t" style="left:1654px;top:687px;color:#000;">0</div>
<div class="t" style="left:1654px;top:703px;color:#000;">0.00349</div>
<div class="t" style="left:1654px;top:734px;color:#000;">0.00</div>
<div class="t" style="left:1654px;top:793px;color:#000;">-0.00637</div>
<div class="t" style="left:20px;top:26px;color:#000;">AUDUSD-,Daily  0.68320 0.68425 0.68303 0.68391</div>
<div class="t" style="left:7.2px;top:599px;color:#000;">RSI(14) 56.3126</div>
<div class="t" style="left:7.5px;top:705px;color:#000;">MACD(12,26,9) 0.000023 -0.001145</div>
<svg width="20" height="10" style="left:0;top:28px" shape-rendering="crispEdges"><polygon points="7,1 14,1 10.5,5" fill="#000" shape-rendering="auto"/></svg>
<div class="t" style="left:2.5px;top:809px;color:#000;">31 May 2019</div>
<div class="t" style="left:66.5px;top:809px;color:#000;">10 Jun 2019</div>
<div class="t" style="left:130.5px;top:809px;color:#000;">19 Jun 2019</div>
<div class="t" style="left:194.5px;top:809px;color:#000;">28 Jun 2019</div>
<div class="t" style="left:258.5px;top:809px;color:#000;">8 Jul 2019</div>
<div class="t" style="left:322.5px;top:809px;color:#000;">17 Jul 2019</div>
<div class="t" style="left:386.5px;top:809px;color:#000;">26 Jul 2019</div>
<div class="t" style="left:450.5px;top:809px;color:#000;">5 Aug 2019</div>
<div class="t" style="left:514.5px;top:809px;color:#000;">14 Aug 2019</div>
<div class="t" style="left:578.5px;top:809px;color:#000;">23 Aug 2019</div>
<div class="t" style="left:642.5px;top:809px;color:#000;">2 Sep 2019</div>
<div class="t" style="left:706.5px;top:809px;color:#000;">11 Sep 2019</div>
<div class="t" style="left:770.5px;top:809px;color:#000;">20 Sep 2019</div>
<div class="t" style="left:834.5px;top:809px;color:#000;">30 Sep 2019</div>
<div class="t" style="left:898.5px;top:809px;color:#000;">9 Oct 2019</div>
<div class="t" style="left:962.5px;top:809px;color:#000;">18 Oct 2019</div>
<div class="t" style="left:1026.5px;top:809px;color:#000;">28 Oct 2019</div>
<div class="t" style="left:1090.5px;top:809px;color:#000;">6 Nov 2019</div>
<div class="t" style="left:1154.5px;top:809px;color:#000;">15 Nov 2019</div>
<div class="t" style="left:1218.5px;top:809px;color:#000;">25 Nov 2019</div>
<div class="t" style="left:1282.5px;top:809px;color:#000;">4 Dec 2019</div>
<div style="position:absolute;left:256px;top:0;width:26px;height:17px;background:repeating-conic-gradient(#fff 0% 25%, #d4d0c8 0% 50%) 0 0/2px 2px;border-left:1px solid #808080;border-right:1px solid #fff;border-bottom:1px solid #fff;box-sizing:border-box"></div>
<div class="tb" style="left:94px;top:2px;color:#404040;">M1</div>
<div class="tb" style="left:122px;top:2px;color:#404040;">M5</div>
<div class="tb" style="left:148px;top:2px;color:#404040;">M15</div>
<div class="tb" style="left:176px;top:2px;color:#404040;">M30</div>
<div class="tb" style="left:207px;top:2px;color:#404040;">H1</div>
<div class="tb" style="left:234px;top:2px;color:#404040;">H4</div>
<div class="tb" style="left:262px;top:2px;color:#404040;">D1</div>
<div class="tb" style="left:290px;top:2px;color:#404040;">W1</div>
<div class="tb" style="left:316px;top:2px;color:#404040;">MN</div>
<div style="position:absolute;left:78px;top:0;width:1px;height:17px;background:#808080"></div><div style="position:absolute;left:79px;top:0;width:1px;height:17px;background:#fff"></div>
<div style="position:absolute;left:339px;top:0;width:1px;height:17px;background:#808080"></div><div style="position:absolute;left:340px;top:0;width:1px;height:17px;background:#fff"></div>
<svg width="6" height="16" style="left:82px;top:0" shape-rendering="crispEdges"><rect x="0" y="0" width="3" height="1" fill="#808080"/><rect x="0" y="2" width="3" height="1" fill="#808080"/><rect x="0" y="4" width="3" height="1" fill="#808080"/><rect x="0" y="6" width="3" height="1" fill="#808080"/><rect x="0" y="8" width="3" height="1" fill="#808080"/><rect x="0" y="10" width="3" height="1" fill="#808080"/><rect x="0" y="12" width="3" height="1" fill="#808080"/><rect x="0" y="14" width="3" height="1" fill="#808080"/></svg>
<svg width="80" height="18" style="left:0;top:0"><g fill="none" stroke="#606060"><path d="M-3.5 10.5 L0.2 3 L4 10.5 M-2 8 H2.8" stroke-width="1.2"/><rect x="23.5" y="0.5" width="11" height="12" stroke-width="1" stroke-dasharray="1,1" shape-rendering="crispEdges"/><path d="M25 3.5 H33" stroke-width="1" shape-rendering="crispEdges"/><path d="M29 3 V11" stroke-width="2" shape-rendering="crispEdges"/><path d="M52.4 8 L54.6 10 L58.8 4.5" stroke-width="1.3"/></g><polygon points="53.5,-1 57.6,3.5 53.5,5.8 49.4,3.5" fill="#585858"/><polygon points="60.5,7.6 64.3,9.7 60.5,13.3 56.7,9.7" fill="#585858"/><path d="M67 5h5v1h-1v1h-1v1h-1v-1h-1v-1h-1z" fill="#000" shape-rendering="crispEdges"/></svg>
<div class="tab" style="left:16px;color:#000">AUDUSD-,Daily</div>
<div class="tab" style="left:116px;color:#303030">USDCAD-,Daily</div>
<div style="position:absolute;left:205px;top:830px;width:1px;height:13px;background:#404040"></div>
<div class="tab" style="left:216px;color:#303030">USDCNH-,Daily</div>
<div style="position:absolute;left:305px;top:830px;width:1px;height:13px;background:#404040"></div>
<div class="tab" style="left:316px;color:#303030">EURUSD-,Daily</div>
<div style="position:absolute;left:405px;top:830px;width:1px;height:13px;background:#404040"></div>
<div class="tab" style="left:416px;color:#303030">USDCHF-,Daily</div>
<div style="position:absolute;left:505px;top:830px;width:1px;height:13px;background:#404040"></div>
<svg width="30" height="10" style="left:1662px;top:831px"><polygon points="7,1 7,9 3,5" fill="#909090"/><polygon points="23,1 23,9 27,5" fill="#909090"/></svg>
</body></html>
